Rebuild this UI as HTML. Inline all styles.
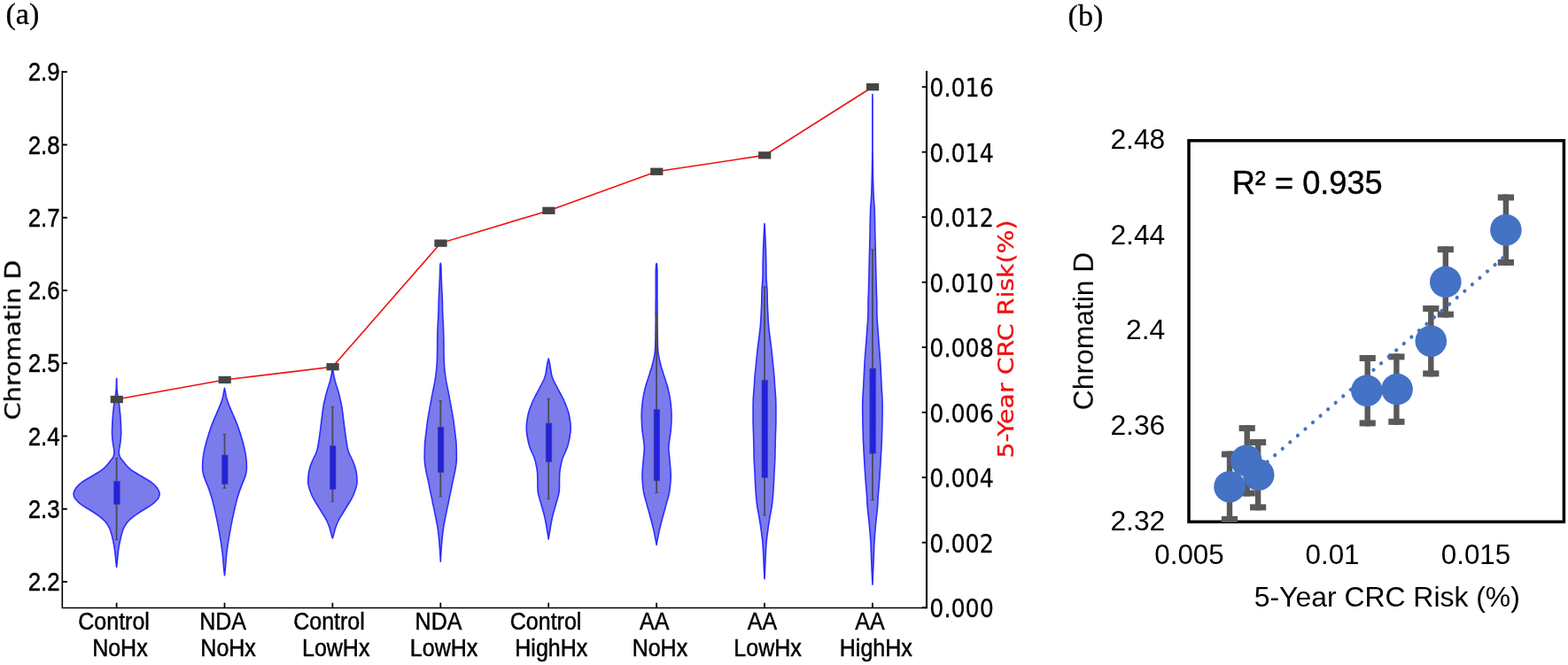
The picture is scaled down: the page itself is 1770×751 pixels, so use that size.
<!DOCTYPE html>
<html lang="en">
<head>
<meta charset="utf-8">
<title>Chromatin D vs 5-Year CRC Risk</title>
<style>
html,body{margin:0;padding:0;background:#fff;}
body{width:1770px;height:751px;overflow:hidden;}
svg{display:block;}
text{white-space:pre;}
</style>
</head>
<body>
<svg width="1770" height="751" viewBox="0 0 1770 751" role="img" aria-label="Violin plot of chromatin D by group with 5-year CRC risk, and scatter plot of chromatin D versus 5-year CRC risk">
<rect x="0" y="0" width="1770" height="751" fill="#ffffff"/>
<defs><filter id="soft" x="0" y="0" width="1770" height="751" filterUnits="userSpaceOnUse" color-interpolation-filters="sRGB"><feGaussianBlur stdDeviation="0.45"/></filter></defs>
<g filter="url(#soft)">
<text transform="translate(6.40 27.40)" font-family="'Liberation Serif', 'Times New Roman', serif" font-size="34.2" text-anchor="start" fill="#000" stroke="#000" stroke-width="0.3" stroke-linejoin="round">(a)</text>
<text transform="translate(1205.60 28.60)" font-family="'Liberation Serif', 'Times New Roman', serif" font-size="34.2" text-anchor="start" fill="#000" stroke="#000" stroke-width="0.3" stroke-linejoin="round">(b)</text>
<g id="violins">
<path d="M131.6 427.3 L131.5 428.3 L131.5 429.3 L131.4 430.3 L131.4 431.3 L131.4 432.3 L131.4 433.3 L131.4 434.3 L131.3 435.3 L131.3 436.3 L131.3 437.3 L131.2 438.3 L131.2 439.3 L131.1 440.3 L131.0 441.3 L130.9 442.3 L130.8 443.3 L130.7 444.3 L130.5 445.3 L130.3 446.3 L130.1 447.3 L130.0 448.3 L129.8 449.3 L129.6 450.3 L129.5 451.3 L129.3 452.3 L129.2 453.3 L129.1 454.3 L128.9 455.3 L128.8 456.3 L128.7 457.3 L128.5 458.3 L128.4 459.3 L128.3 460.3 L128.2 461.3 L128.1 462.3 L128.0 463.3 L127.9 464.3 L127.8 465.3 L127.7 466.3 L127.6 467.3 L127.5 468.3 L127.4 469.3 L127.3 470.3 L127.3 471.3 L127.2 472.3 L127.1 473.3 L127.1 474.3 L127.0 475.3 L126.9 476.3 L126.9 477.3 L126.8 478.3 L126.8 479.3 L126.7 480.3 L126.7 481.3 L126.7 482.3 L126.6 483.3 L126.6 484.3 L126.6 485.3 L126.5 486.3 L126.5 487.3 L126.5 488.3 L126.5 489.3 L126.6 490.3 L126.6 491.3 L126.6 492.3 L126.7 493.3 L126.8 494.3 L126.9 495.3 L127.0 496.3 L127.1 497.3 L127.2 498.3 L127.3 499.3 L127.5 500.3 L127.6 501.3 L127.8 502.3 L127.9 503.3 L128.1 504.3 L128.3 505.3 L128.5 506.3 L128.7 507.3 L128.8 508.3 L128.9 509.3 L129.0 510.3 L128.9 511.3 L128.9 512.3 L128.7 513.3 L128.4 514.3 L128.1 515.3 L127.6 516.3 L127.1 517.3 L126.4 518.3 L125.6 519.3 L124.8 520.3 L124.0 521.3 L123.2 522.3 L122.4 523.3 L121.6 524.3 L120.7 525.3 L119.8 526.3 L118.9 527.3 L117.8 528.3 L116.7 529.3 L115.4 530.3 L114.1 531.3 L112.6 532.3 L111.1 533.3 L109.5 534.3 L107.9 535.3 L106.3 536.3 L104.6 537.3 L102.9 538.3 L101.2 539.3 L99.5 540.3 L97.8 541.3 L96.1 542.3 L94.5 543.3 L92.9 544.3 L91.6 545.3 L90.3 546.3 L89.2 547.3 L88.2 548.3 L87.3 549.3 L86.5 550.3 L85.7 551.3 L85.1 552.3 L84.5 553.3 L84.0 554.3 L83.6 555.3 L83.3 556.3 L83.2 557.3 L83.1 558.3 L83.3 559.3 L83.5 560.3 L83.9 561.3 L84.4 562.3 L85.0 563.3 L85.8 564.3 L86.7 565.3 L87.7 566.3 L88.8 567.3 L90.0 568.3 L91.2 569.3 L92.6 570.3 L94.0 571.3 L95.5 572.3 L97.1 573.3 L98.7 574.3 L100.3 575.3 L102.0 576.3 L103.6 577.3 L105.2 578.3 L106.7 579.3 L108.3 580.3 L109.7 581.3 L111.2 582.3 L112.5 583.3 L113.8 584.3 L115.0 585.3 L116.1 586.3 L117.2 587.3 L118.1 588.3 L119.0 589.3 L119.8 590.3 L120.6 591.3 L121.3 592.3 L121.9 593.3 L122.5 594.3 L123.0 595.3 L123.5 596.3 L123.9 597.3 L124.3 598.3 L124.7 599.3 L125.0 600.3 L125.3 601.3 L125.6 602.3 L125.9 603.3 L126.2 604.3 L126.4 605.3 L126.7 606.3 L126.9 607.3 L127.1 608.3 L127.3 609.3 L127.6 610.3 L127.8 611.3 L128.0 612.3 L128.2 613.3 L128.4 614.3 L128.6 615.3 L128.8 616.3 L129.0 617.3 L129.1 618.3 L129.3 619.3 L129.4 620.3 L129.5 621.3 L129.7 622.3 L129.8 623.3 L129.9 624.3 L130.0 625.3 L130.1 626.3 L130.2 627.3 L130.3 628.3 L130.4 629.3 L130.5 630.3 L130.6 631.3 L130.7 632.3 L130.8 633.3 L130.9 634.3 L131.0 635.3 L131.1 636.3 L131.2 637.3 L131.3 638.3 L131.5 639.3 L131.6 640.3 L131.6 640.3 L131.7 639.3 L131.9 638.3 L132.0 637.3 L132.1 636.3 L132.2 635.3 L132.3 634.3 L132.4 633.3 L132.5 632.3 L132.6 631.3 L132.7 630.3 L132.8 629.3 L132.9 628.3 L133.0 627.3 L133.1 626.3 L133.2 625.3 L133.3 624.3 L133.4 623.3 L133.5 622.3 L133.7 621.3 L133.8 620.3 L133.9 619.3 L134.1 618.3 L134.2 617.3 L134.4 616.3 L134.6 615.3 L134.8 614.3 L135.0 613.3 L135.2 612.3 L135.4 611.3 L135.6 610.3 L135.9 609.3 L136.1 608.3 L136.3 607.3 L136.5 606.3 L136.8 605.3 L137.0 604.3 L137.3 603.3 L137.6 602.3 L137.9 601.3 L138.2 600.3 L138.5 599.3 L138.9 598.3 L139.3 597.3 L139.7 596.3 L140.2 595.3 L140.7 594.3 L141.3 593.3 L141.9 592.3 L142.6 591.3 L143.4 590.3 L144.2 589.3 L145.1 588.3 L146.0 587.3 L147.1 586.3 L148.2 585.3 L149.4 584.3 L150.7 583.3 L152.0 582.3 L153.5 581.3 L154.9 580.3 L156.5 579.3 L158.0 578.3 L159.6 577.3 L161.2 576.3 L162.9 575.3 L164.5 574.3 L166.1 573.3 L167.7 572.3 L169.2 571.3 L170.6 570.3 L172.0 569.3 L173.2 568.3 L174.4 567.3 L175.5 566.3 L176.5 565.3 L177.4 564.3 L178.2 563.3 L178.8 562.3 L179.3 561.3 L179.7 560.3 L179.9 559.3 L180.1 558.3 L180.0 557.3 L179.9 556.3 L179.6 555.3 L179.2 554.3 L178.7 553.3 L178.1 552.3 L177.5 551.3 L176.7 550.3 L175.9 549.3 L175.0 548.3 L174.0 547.3 L172.9 546.3 L171.6 545.3 L170.3 544.3 L168.7 543.3 L167.1 542.3 L165.4 541.3 L163.7 540.3 L162.0 539.3 L160.3 538.3 L158.6 537.3 L156.9 536.3 L155.3 535.3 L153.7 534.3 L152.1 533.3 L150.6 532.3 L149.1 531.3 L147.8 530.3 L146.5 529.3 L145.4 528.3 L144.3 527.3 L143.4 526.3 L142.5 525.3 L141.6 524.3 L140.8 523.3 L140.0 522.3 L139.2 521.3 L138.4 520.3 L137.6 519.3 L136.8 518.3 L136.1 517.3 L135.6 516.3 L135.1 515.3 L134.8 514.3 L134.5 513.3 L134.3 512.3 L134.3 511.3 L134.2 510.3 L134.3 509.3 L134.4 508.3 L134.5 507.3 L134.7 506.3 L134.9 505.3 L135.1 504.3 L135.3 503.3 L135.4 502.3 L135.6 501.3 L135.7 500.3 L135.9 499.3 L136.0 498.3 L136.1 497.3 L136.2 496.3 L136.3 495.3 L136.4 494.3 L136.5 493.3 L136.6 492.3 L136.6 491.3 L136.6 490.3 L136.7 489.3 L136.7 488.3 L136.7 487.3 L136.7 486.3 L136.6 485.3 L136.6 484.3 L136.6 483.3 L136.5 482.3 L136.5 481.3 L136.5 480.3 L136.4 479.3 L136.4 478.3 L136.3 477.3 L136.3 476.3 L136.2 475.3 L136.1 474.3 L136.1 473.3 L136.0 472.3 L135.9 471.3 L135.9 470.3 L135.8 469.3 L135.7 468.3 L135.6 467.3 L135.5 466.3 L135.4 465.3 L135.3 464.3 L135.2 463.3 L135.1 462.3 L135.0 461.3 L134.9 460.3 L134.8 459.3 L134.7 458.3 L134.5 457.3 L134.4 456.3 L134.3 455.3 L134.1 454.3 L134.0 453.3 L133.9 452.3 L133.7 451.3 L133.6 450.3 L133.4 449.3 L133.2 448.3 L133.1 447.3 L132.9 446.3 L132.7 445.3 L132.5 444.3 L132.4 443.3 L132.3 442.3 L132.2 441.3 L132.1 440.3 L132.0 439.3 L132.0 438.3 L131.9 437.3 L131.9 436.3 L131.9 435.3 L131.8 434.3 L131.8 433.3 L131.8 432.3 L131.8 431.3 L131.8 430.3 L131.7 429.3 L131.7 428.3 L131.6 427.3 Z" fill="#7b7beb" stroke="#2c2cff" stroke-width="1.6" stroke-linejoin="round"/>
<path d="M253.5 438.4 L253.3 439.4 L253.1 440.4 L252.9 441.4 L252.7 442.4 L252.5 443.4 L252.3 444.4 L252.1 445.4 L252.0 446.4 L251.8 447.4 L251.5 448.4 L251.3 449.4 L251.0 450.4 L250.7 451.4 L250.4 452.4 L250.1 453.4 L249.7 454.4 L249.4 455.4 L249.0 456.4 L248.6 457.4 L248.1 458.4 L247.7 459.4 L247.3 460.4 L246.9 461.4 L246.5 462.4 L246.0 463.4 L245.6 464.4 L245.2 465.4 L244.8 466.4 L244.4 467.4 L243.9 468.4 L243.5 469.4 L243.0 470.4 L242.6 471.4 L242.2 472.4 L241.7 473.4 L241.3 474.4 L240.9 475.4 L240.5 476.4 L240.1 477.4 L239.7 478.4 L239.3 479.4 L238.9 480.4 L238.6 481.4 L238.2 482.4 L237.8 483.4 L237.5 484.4 L237.2 485.4 L236.8 486.4 L236.5 487.4 L236.2 488.4 L235.8 489.4 L235.5 490.4 L235.2 491.4 L234.9 492.4 L234.6 493.4 L234.3 494.4 L234.0 495.4 L233.7 496.4 L233.4 497.4 L233.1 498.4 L232.8 499.4 L232.5 500.4 L232.3 501.4 L232.0 502.4 L231.8 503.4 L231.5 504.4 L231.3 505.4 L231.1 506.4 L230.9 507.4 L230.7 508.4 L230.5 509.4 L230.3 510.4 L230.1 511.4 L229.9 512.4 L229.8 513.4 L229.6 514.4 L229.4 515.4 L229.3 516.4 L229.2 517.4 L229.0 518.4 L228.9 519.4 L228.9 520.4 L228.8 521.4 L228.7 522.4 L228.7 523.4 L228.7 524.4 L228.7 525.4 L228.6 526.4 L228.6 527.4 L228.6 528.4 L228.7 529.4 L228.7 530.4 L228.8 531.4 L228.9 532.4 L229.1 533.4 L229.3 534.4 L229.5 535.4 L229.8 536.4 L230.1 537.4 L230.4 538.4 L230.7 539.4 L231.1 540.4 L231.5 541.4 L231.9 542.4 L232.3 543.4 L232.7 544.4 L233.1 545.4 L233.5 546.4 L233.9 547.4 L234.3 548.4 L234.7 549.4 L235.1 550.4 L235.4 551.4 L235.8 552.4 L236.2 553.4 L236.5 554.4 L236.9 555.4 L237.2 556.4 L237.5 557.4 L237.9 558.4 L238.2 559.4 L238.5 560.4 L238.8 561.4 L239.1 562.4 L239.4 563.4 L239.7 564.4 L239.9 565.4 L240.2 566.4 L240.4 567.4 L240.7 568.4 L240.9 569.4 L241.2 570.4 L241.4 571.4 L241.6 572.4 L241.9 573.4 L242.1 574.4 L242.3 575.4 L242.5 576.4 L242.8 577.4 L243.0 578.4 L243.2 579.4 L243.4 580.4 L243.6 581.4 L243.9 582.4 L244.1 583.4 L244.3 584.4 L244.5 585.4 L244.7 586.4 L244.9 587.4 L245.1 588.4 L245.3 589.4 L245.5 590.4 L245.7 591.4 L245.9 592.4 L246.1 593.4 L246.3 594.4 L246.5 595.4 L246.6 596.4 L246.8 597.4 L247.0 598.4 L247.2 599.4 L247.4 600.4 L247.6 601.4 L247.7 602.4 L247.9 603.4 L248.1 604.4 L248.2 605.4 L248.4 606.4 L248.6 607.4 L248.7 608.4 L248.9 609.4 L249.1 610.4 L249.2 611.4 L249.4 612.4 L249.5 613.4 L249.7 614.4 L249.8 615.4 L250.0 616.4 L250.1 617.4 L250.3 618.4 L250.4 619.4 L250.6 620.4 L250.7 621.4 L250.8 622.4 L251.0 623.4 L251.1 624.4 L251.2 625.4 L251.3 626.4 L251.4 627.4 L251.5 628.4 L251.6 629.4 L251.7 630.4 L251.8 631.4 L251.9 632.4 L251.9 633.4 L252.0 634.4 L252.1 635.4 L252.2 636.4 L252.3 637.4 L252.3 638.4 L252.4 639.4 L252.5 640.4 L252.6 641.4 L252.7 642.4 L252.8 643.4 L252.9 644.4 L253.0 645.4 L253.1 646.4 L253.2 647.4 L253.3 648.4 L253.4 649.4 L253.5 649.8 L253.5 649.8 L253.6 649.4 L253.7 648.4 L253.8 647.4 L253.9 646.4 L254.0 645.4 L254.1 644.4 L254.2 643.4 L254.3 642.4 L254.4 641.4 L254.5 640.4 L254.6 639.4 L254.7 638.4 L254.7 637.4 L254.8 636.4 L254.9 635.4 L255.0 634.4 L255.1 633.4 L255.1 632.4 L255.2 631.4 L255.3 630.4 L255.4 629.4 L255.5 628.4 L255.6 627.4 L255.7 626.4 L255.8 625.4 L255.9 624.4 L256.0 623.4 L256.2 622.4 L256.3 621.4 L256.4 620.4 L256.6 619.4 L256.7 618.4 L256.9 617.4 L257.0 616.4 L257.2 615.4 L257.3 614.4 L257.5 613.4 L257.6 612.4 L257.8 611.4 L257.9 610.4 L258.1 609.4 L258.3 608.4 L258.4 607.4 L258.6 606.4 L258.8 605.4 L258.9 604.4 L259.1 603.4 L259.3 602.4 L259.4 601.4 L259.6 600.4 L259.8 599.4 L260.0 598.4 L260.2 597.4 L260.4 596.4 L260.5 595.4 L260.7 594.4 L260.9 593.4 L261.1 592.4 L261.3 591.4 L261.5 590.4 L261.7 589.4 L261.9 588.4 L262.1 587.4 L262.3 586.4 L262.5 585.4 L262.7 584.4 L262.9 583.4 L263.1 582.4 L263.4 581.4 L263.6 580.4 L263.8 579.4 L264.0 578.4 L264.2 577.4 L264.5 576.4 L264.7 575.4 L264.9 574.4 L265.1 573.4 L265.4 572.4 L265.6 571.4 L265.8 570.4 L266.1 569.4 L266.3 568.4 L266.6 567.4 L266.8 566.4 L267.1 565.4 L267.3 564.4 L267.6 563.4 L267.9 562.4 L268.2 561.4 L268.5 560.4 L268.8 559.4 L269.1 558.4 L269.5 557.4 L269.8 556.4 L270.1 555.4 L270.5 554.4 L270.8 553.4 L271.2 552.4 L271.6 551.4 L271.9 550.4 L272.3 549.4 L272.7 548.4 L273.1 547.4 L273.5 546.4 L273.9 545.4 L274.3 544.4 L274.7 543.4 L275.1 542.4 L275.5 541.4 L275.9 540.4 L276.3 539.4 L276.6 538.4 L276.9 537.4 L277.2 536.4 L277.5 535.4 L277.7 534.4 L277.9 533.4 L278.1 532.4 L278.2 531.4 L278.3 530.4 L278.3 529.4 L278.4 528.4 L278.4 527.4 L278.4 526.4 L278.3 525.4 L278.3 524.4 L278.3 523.4 L278.3 522.4 L278.2 521.4 L278.1 520.4 L278.1 519.4 L278.0 518.4 L277.8 517.4 L277.7 516.4 L277.6 515.4 L277.4 514.4 L277.2 513.4 L277.1 512.4 L276.9 511.4 L276.7 510.4 L276.5 509.4 L276.3 508.4 L276.1 507.4 L275.9 506.4 L275.7 505.4 L275.5 504.4 L275.2 503.4 L275.0 502.4 L274.7 501.4 L274.5 500.4 L274.2 499.4 L273.9 498.4 L273.6 497.4 L273.3 496.4 L273.0 495.4 L272.7 494.4 L272.4 493.4 L272.1 492.4 L271.8 491.4 L271.5 490.4 L271.2 489.4 L270.8 488.4 L270.5 487.4 L270.2 486.4 L269.8 485.4 L269.5 484.4 L269.2 483.4 L268.8 482.4 L268.4 481.4 L268.1 480.4 L267.7 479.4 L267.3 478.4 L266.9 477.4 L266.5 476.4 L266.1 475.4 L265.7 474.4 L265.3 473.4 L264.8 472.4 L264.4 471.4 L264.0 470.4 L263.5 469.4 L263.1 468.4 L262.6 467.4 L262.2 466.4 L261.8 465.4 L261.4 464.4 L261.0 463.4 L260.5 462.4 L260.1 461.4 L259.7 460.4 L259.3 459.4 L258.9 458.4 L258.4 457.4 L258.0 456.4 L257.6 455.4 L257.3 454.4 L256.9 453.4 L256.6 452.4 L256.3 451.4 L256.0 450.4 L255.7 449.4 L255.5 448.4 L255.2 447.4 L255.0 446.4 L254.9 445.4 L254.7 444.4 L254.5 443.4 L254.3 442.4 L254.1 441.4 L253.9 440.4 L253.7 439.4 L253.5 438.4 Z" fill="#7b7beb" stroke="#2c2cff" stroke-width="1.6" stroke-linejoin="round"/>
<path d="M375.4 415.0 L375.3 416.0 L375.1 417.0 L375.0 418.0 L374.9 419.0 L374.7 420.0 L374.5 421.0 L374.4 422.0 L374.2 423.0 L374.0 424.0 L373.8 425.0 L373.6 426.0 L373.3 427.0 L373.1 428.0 L372.9 429.0 L372.6 430.0 L372.4 431.0 L372.1 432.0 L371.8 433.0 L371.5 434.0 L371.2 435.0 L370.9 436.0 L370.5 437.0 L370.2 438.0 L369.9 439.0 L369.6 440.0 L369.3 441.0 L369.0 442.0 L368.7 443.0 L368.4 444.0 L368.2 445.0 L367.9 446.0 L367.6 447.0 L367.4 448.0 L367.2 449.0 L366.9 450.0 L366.7 451.0 L366.5 452.0 L366.2 453.0 L366.0 454.0 L365.8 455.0 L365.6 456.0 L365.4 457.0 L365.3 458.0 L365.1 459.0 L364.9 460.0 L364.8 461.0 L364.6 462.0 L364.5 463.0 L364.3 464.0 L364.2 465.0 L364.0 466.0 L363.9 467.0 L363.8 468.0 L363.7 469.0 L363.5 470.0 L363.4 471.0 L363.3 472.0 L363.2 473.0 L363.0 474.0 L362.9 475.0 L362.8 476.0 L362.7 477.0 L362.5 478.0 L362.4 479.0 L362.3 480.0 L362.2 481.0 L362.1 482.0 L361.9 483.0 L361.8 484.0 L361.7 485.0 L361.6 486.0 L361.4 487.0 L361.3 488.0 L361.2 489.0 L361.0 490.0 L360.9 491.0 L360.8 492.0 L360.6 493.0 L360.5 494.0 L360.3 495.0 L360.2 496.0 L360.1 497.0 L359.9 498.0 L359.7 499.0 L359.6 500.0 L359.4 501.0 L359.2 502.0 L359.1 503.0 L358.9 504.0 L358.7 505.0 L358.5 506.0 L358.2 507.0 L358.0 508.0 L357.7 509.0 L357.4 510.0 L357.0 511.0 L356.6 512.0 L356.2 513.0 L355.7 514.0 L355.2 515.0 L354.7 516.0 L354.2 517.0 L353.8 518.0 L353.3 519.0 L352.8 520.0 L352.4 521.0 L352.0 522.0 L351.6 523.0 L351.2 524.0 L350.8 525.0 L350.5 526.0 L350.1 527.0 L349.8 528.0 L349.6 529.0 L349.3 530.0 L349.1 531.0 L348.9 532.0 L348.7 533.0 L348.5 534.0 L348.4 535.0 L348.2 536.0 L348.1 537.0 L348.0 538.0 L348.0 539.0 L347.9 540.0 L347.8 541.0 L347.8 542.0 L347.8 543.0 L347.8 544.0 L347.8 545.0 L347.9 546.0 L348.0 547.0 L348.2 548.0 L348.5 549.0 L348.7 550.0 L349.0 551.0 L349.3 552.0 L349.6 553.0 L350.0 554.0 L350.3 555.0 L350.7 556.0 L351.0 557.0 L351.5 558.0 L351.9 559.0 L352.3 560.0 L352.8 561.0 L353.3 562.0 L353.8 563.0 L354.4 564.0 L355.0 565.0 L355.5 566.0 L356.2 567.0 L356.8 568.0 L357.4 569.0 L358.0 570.0 L358.6 571.0 L359.2 572.0 L359.8 573.0 L360.5 574.0 L361.1 575.0 L361.7 576.0 L362.3 577.0 L362.9 578.0 L363.5 579.0 L364.1 580.0 L364.7 581.0 L365.4 582.0 L366.0 583.0 L366.6 584.0 L367.2 585.0 L367.7 586.0 L368.3 587.0 L368.8 588.0 L369.3 589.0 L369.7 590.0 L370.1 591.0 L370.6 592.0 L370.9 593.0 L371.3 594.0 L371.7 595.0 L372.0 596.0 L372.3 597.0 L372.6 598.0 L372.9 599.0 L373.2 600.0 L373.4 601.0 L373.7 602.0 L374.0 603.0 L374.2 604.0 L374.5 605.0 L374.8 606.0 L375.1 607.0 L375.4 607.8 L375.4 607.8 L375.7 607.0 L376.0 606.0 L376.3 605.0 L376.6 604.0 L376.8 603.0 L377.1 602.0 L377.4 601.0 L377.6 600.0 L377.9 599.0 L378.2 598.0 L378.5 597.0 L378.8 596.0 L379.1 595.0 L379.5 594.0 L379.9 593.0 L380.2 592.0 L380.7 591.0 L381.1 590.0 L381.5 589.0 L382.0 588.0 L382.5 587.0 L383.1 586.0 L383.6 585.0 L384.2 584.0 L384.8 583.0 L385.4 582.0 L386.1 581.0 L386.7 580.0 L387.3 579.0 L387.9 578.0 L388.5 577.0 L389.1 576.0 L389.7 575.0 L390.3 574.0 L391.0 573.0 L391.6 572.0 L392.2 571.0 L392.8 570.0 L393.4 569.0 L394.0 568.0 L394.6 567.0 L395.3 566.0 L395.8 565.0 L396.4 564.0 L397.0 563.0 L397.5 562.0 L398.0 561.0 L398.5 560.0 L398.9 559.0 L399.3 558.0 L399.8 557.0 L400.1 556.0 L400.5 555.0 L400.8 554.0 L401.2 553.0 L401.5 552.0 L401.8 551.0 L402.1 550.0 L402.3 549.0 L402.6 548.0 L402.8 547.0 L402.9 546.0 L403.0 545.0 L403.0 544.0 L403.0 543.0 L403.0 542.0 L403.0 541.0 L402.9 540.0 L402.8 539.0 L402.8 538.0 L402.7 537.0 L402.6 536.0 L402.4 535.0 L402.3 534.0 L402.1 533.0 L401.9 532.0 L401.7 531.0 L401.5 530.0 L401.2 529.0 L401.0 528.0 L400.7 527.0 L400.3 526.0 L400.0 525.0 L399.6 524.0 L399.2 523.0 L398.8 522.0 L398.4 521.0 L398.0 520.0 L397.5 519.0 L397.0 518.0 L396.6 517.0 L396.1 516.0 L395.6 515.0 L395.1 514.0 L394.6 513.0 L394.2 512.0 L393.8 511.0 L393.4 510.0 L393.1 509.0 L392.8 508.0 L392.6 507.0 L392.3 506.0 L392.1 505.0 L391.9 504.0 L391.7 503.0 L391.6 502.0 L391.4 501.0 L391.2 500.0 L391.1 499.0 L390.9 498.0 L390.7 497.0 L390.6 496.0 L390.5 495.0 L390.3 494.0 L390.2 493.0 L390.0 492.0 L389.9 491.0 L389.8 490.0 L389.6 489.0 L389.5 488.0 L389.4 487.0 L389.2 486.0 L389.1 485.0 L389.0 484.0 L388.9 483.0 L388.7 482.0 L388.6 481.0 L388.5 480.0 L388.4 479.0 L388.3 478.0 L388.1 477.0 L388.0 476.0 L387.9 475.0 L387.8 474.0 L387.6 473.0 L387.5 472.0 L387.4 471.0 L387.3 470.0 L387.1 469.0 L387.0 468.0 L386.9 467.0 L386.8 466.0 L386.6 465.0 L386.5 464.0 L386.3 463.0 L386.2 462.0 L386.0 461.0 L385.9 460.0 L385.7 459.0 L385.5 458.0 L385.4 457.0 L385.2 456.0 L385.0 455.0 L384.8 454.0 L384.6 453.0 L384.3 452.0 L384.1 451.0 L383.9 450.0 L383.6 449.0 L383.4 448.0 L383.2 447.0 L382.9 446.0 L382.6 445.0 L382.4 444.0 L382.1 443.0 L381.8 442.0 L381.5 441.0 L381.2 440.0 L380.9 439.0 L380.6 438.0 L380.3 437.0 L379.9 436.0 L379.6 435.0 L379.3 434.0 L379.0 433.0 L378.7 432.0 L378.4 431.0 L378.2 430.0 L377.9 429.0 L377.7 428.0 L377.5 427.0 L377.2 426.0 L377.0 425.0 L376.8 424.0 L376.6 423.0 L376.4 422.0 L376.3 421.0 L376.1 420.0 L375.9 419.0 L375.8 418.0 L375.7 417.0 L375.5 416.0 L375.4 415.0 Z" fill="#7b7beb" stroke="#2c2cff" stroke-width="1.6" stroke-linejoin="round"/>
<path d="M497.3 297.2 L497.1 298.2 L496.9 299.2 L496.8 300.2 L496.8 301.2 L496.7 302.2 L496.7 303.2 L496.7 304.2 L496.7 305.2 L496.6 306.2 L496.6 307.2 L496.6 308.2 L496.6 309.2 L496.5 310.2 L496.5 311.2 L496.5 312.2 L496.4 313.2 L496.4 314.2 L496.4 315.2 L496.3 316.2 L496.3 317.2 L496.2 318.2 L496.2 319.2 L496.2 320.2 L496.1 321.2 L496.1 322.2 L496.0 323.2 L496.0 324.2 L495.9 325.2 L495.9 326.2 L495.8 327.2 L495.8 328.2 L495.7 329.2 L495.7 330.2 L495.6 331.2 L495.6 332.2 L495.5 333.2 L495.5 334.2 L495.4 335.2 L495.4 336.2 L495.3 337.2 L495.3 338.2 L495.3 339.2 L495.2 340.2 L495.2 341.2 L495.2 342.2 L495.2 343.2 L495.1 344.2 L495.1 345.2 L495.1 346.2 L495.1 347.2 L495.1 348.2 L495.0 349.2 L495.0 350.2 L495.0 351.2 L495.0 352.2 L494.9 353.2 L494.9 354.2 L494.8 355.2 L494.8 356.2 L494.8 357.2 L494.7 358.2 L494.7 359.2 L494.6 360.2 L494.5 361.2 L494.5 362.2 L494.4 363.2 L494.4 364.2 L494.3 365.2 L494.3 366.2 L494.2 367.2 L494.2 368.2 L494.1 369.2 L494.1 370.2 L494.1 371.2 L494.0 372.2 L494.0 373.2 L494.0 374.2 L493.9 375.2 L493.9 376.2 L493.9 377.2 L493.9 378.2 L493.8 379.2 L493.8 380.2 L493.8 381.2 L493.8 382.2 L493.7 383.2 L493.7 384.2 L493.7 385.2 L493.7 386.2 L493.7 387.2 L493.7 388.2 L493.7 389.2 L493.7 390.2 L493.7 391.2 L493.7 392.2 L493.7 393.2 L493.6 394.2 L493.6 395.2 L493.6 396.2 L493.6 397.2 L493.6 398.2 L493.6 399.2 L493.6 400.2 L493.6 401.2 L493.5 402.2 L493.5 403.2 L493.5 404.2 L493.4 405.2 L493.4 406.2 L493.4 407.2 L493.3 408.2 L493.2 409.2 L493.2 410.2 L493.1 411.2 L493.1 412.2 L493.0 413.2 L492.9 414.2 L492.9 415.2 L492.8 416.2 L492.7 417.2 L492.6 418.2 L492.5 419.2 L492.4 420.2 L492.2 421.2 L492.1 422.2 L492.0 423.2 L491.9 424.2 L491.7 425.2 L491.6 426.2 L491.4 427.2 L491.3 428.2 L491.1 429.2 L491.0 430.2 L490.8 431.2 L490.6 432.2 L490.4 433.2 L490.2 434.2 L490.0 435.2 L489.8 436.2 L489.6 437.2 L489.4 438.2 L489.2 439.2 L489.0 440.2 L488.8 441.2 L488.6 442.2 L488.4 443.2 L488.2 444.2 L488.0 445.2 L487.8 446.2 L487.6 447.2 L487.4 448.2 L487.2 449.2 L487.1 450.2 L486.9 451.2 L486.7 452.2 L486.5 453.2 L486.3 454.2 L486.1 455.2 L486.0 456.2 L485.8 457.2 L485.6 458.2 L485.4 459.2 L485.2 460.2 L485.1 461.2 L484.9 462.2 L484.7 463.2 L484.5 464.2 L484.3 465.2 L484.1 466.2 L483.9 467.2 L483.8 468.2 L483.6 469.2 L483.4 470.2 L483.3 471.2 L483.1 472.2 L482.9 473.2 L482.8 474.2 L482.6 475.2 L482.5 476.2 L482.4 477.2 L482.2 478.2 L482.1 479.2 L482.0 480.2 L481.8 481.2 L481.7 482.2 L481.6 483.2 L481.5 484.2 L481.3 485.2 L481.2 486.2 L481.1 487.2 L481.0 488.2 L480.9 489.2 L480.7 490.2 L480.6 491.2 L480.5 492.2 L480.4 493.2 L480.3 494.2 L480.2 495.2 L480.0 496.2 L479.9 497.2 L479.8 498.2 L479.8 499.2 L479.7 500.2 L479.6 501.2 L479.5 502.2 L479.5 503.2 L479.5 504.2 L479.4 505.2 L479.4 506.2 L479.4 507.2 L479.3 508.2 L479.3 509.2 L479.3 510.2 L479.3 511.2 L479.3 512.2 L479.3 513.2 L479.2 514.2 L479.2 515.2 L479.2 516.2 L479.2 517.2 L479.2 518.2 L479.3 519.2 L479.3 520.2 L479.4 521.2 L479.5 522.2 L479.6 523.2 L479.7 524.2 L479.8 525.2 L480.0 526.2 L480.1 527.2 L480.2 528.2 L480.4 529.2 L480.6 530.2 L480.8 531.2 L481.0 532.2 L481.2 533.2 L481.4 534.2 L481.6 535.2 L481.8 536.2 L482.0 537.2 L482.3 538.2 L482.5 539.2 L482.7 540.2 L483.0 541.2 L483.2 542.2 L483.4 543.2 L483.6 544.2 L483.8 545.2 L484.0 546.2 L484.2 547.2 L484.4 548.2 L484.6 549.2 L484.8 550.2 L485.0 551.2 L485.2 552.2 L485.4 553.2 L485.6 554.2 L485.8 555.2 L486.0 556.2 L486.2 557.2 L486.4 558.2 L486.7 559.2 L486.9 560.2 L487.1 561.2 L487.3 562.2 L487.5 563.2 L487.7 564.2 L487.9 565.2 L488.1 566.2 L488.3 567.2 L488.5 568.2 L488.7 569.2 L488.9 570.2 L489.1 571.2 L489.4 572.2 L489.6 573.2 L489.8 574.2 L490.0 575.2 L490.2 576.2 L490.4 577.2 L490.6 578.2 L490.8 579.2 L491.0 580.2 L491.2 581.2 L491.4 582.2 L491.6 583.2 L491.8 584.2 L492.0 585.2 L492.2 586.2 L492.4 587.2 L492.6 588.2 L492.8 589.2 L493.0 590.2 L493.2 591.2 L493.4 592.2 L493.6 593.2 L493.7 594.2 L493.9 595.2 L494.0 596.2 L494.2 597.2 L494.3 598.2 L494.5 599.2 L494.6 600.2 L494.7 601.2 L494.8 602.2 L494.9 603.2 L495.1 604.2 L495.2 605.2 L495.3 606.2 L495.4 607.2 L495.5 608.2 L495.6 609.2 L495.7 610.2 L495.8 611.2 L495.8 612.2 L495.9 613.2 L496.0 614.2 L496.1 615.2 L496.2 616.2 L496.3 617.2 L496.3 618.2 L496.4 619.2 L496.5 620.2 L496.6 621.2 L496.6 622.2 L496.7 623.2 L496.8 624.2 L496.8 625.2 L496.9 626.2 L496.9 627.2 L497.0 628.2 L497.1 629.2 L497.1 630.2 L497.2 631.2 L497.2 632.2 L497.3 633.2 L497.3 634.2 L497.3 634.3 L497.3 634.3 L497.3 634.2 L497.3 633.2 L497.4 632.2 L497.4 631.2 L497.5 630.2 L497.5 629.2 L497.6 628.2 L497.7 627.2 L497.7 626.2 L497.8 625.2 L497.8 624.2 L497.9 623.2 L498.0 622.2 L498.0 621.2 L498.1 620.2 L498.2 619.2 L498.3 618.2 L498.3 617.2 L498.4 616.2 L498.5 615.2 L498.6 614.2 L498.7 613.2 L498.8 612.2 L498.8 611.2 L498.9 610.2 L499.0 609.2 L499.1 608.2 L499.2 607.2 L499.3 606.2 L499.4 605.2 L499.5 604.2 L499.7 603.2 L499.8 602.2 L499.9 601.2 L500.0 600.2 L500.1 599.2 L500.3 598.2 L500.4 597.2 L500.6 596.2 L500.7 595.2 L500.9 594.2 L501.0 593.2 L501.2 592.2 L501.4 591.2 L501.6 590.2 L501.8 589.2 L502.0 588.2 L502.2 587.2 L502.4 586.2 L502.6 585.2 L502.8 584.2 L503.0 583.2 L503.2 582.2 L503.4 581.2 L503.6 580.2 L503.8 579.2 L504.0 578.2 L504.2 577.2 L504.4 576.2 L504.6 575.2 L504.8 574.2 L505.0 573.2 L505.2 572.2 L505.5 571.2 L505.7 570.2 L505.9 569.2 L506.1 568.2 L506.3 567.2 L506.5 566.2 L506.7 565.2 L506.9 564.2 L507.1 563.2 L507.3 562.2 L507.5 561.2 L507.7 560.2 L507.9 559.2 L508.2 558.2 L508.4 557.2 L508.6 556.2 L508.8 555.2 L509.0 554.2 L509.2 553.2 L509.4 552.2 L509.6 551.2 L509.8 550.2 L510.0 549.2 L510.2 548.2 L510.4 547.2 L510.6 546.2 L510.8 545.2 L511.0 544.2 L511.2 543.2 L511.4 542.2 L511.6 541.2 L511.9 540.2 L512.1 539.2 L512.3 538.2 L512.6 537.2 L512.8 536.2 L513.0 535.2 L513.2 534.2 L513.4 533.2 L513.6 532.2 L513.8 531.2 L514.0 530.2 L514.2 529.2 L514.4 528.2 L514.5 527.2 L514.6 526.2 L514.8 525.2 L514.9 524.2 L515.0 523.2 L515.1 522.2 L515.2 521.2 L515.3 520.2 L515.3 519.2 L515.4 518.2 L515.4 517.2 L515.4 516.2 L515.4 515.2 L515.4 514.2 L515.3 513.2 L515.3 512.2 L515.3 511.2 L515.3 510.2 L515.3 509.2 L515.3 508.2 L515.2 507.2 L515.2 506.2 L515.2 505.2 L515.1 504.2 L515.1 503.2 L515.1 502.2 L515.0 501.2 L514.9 500.2 L514.8 499.2 L514.8 498.2 L514.7 497.2 L514.6 496.2 L514.4 495.2 L514.3 494.2 L514.2 493.2 L514.1 492.2 L514.0 491.2 L513.9 490.2 L513.7 489.2 L513.6 488.2 L513.5 487.2 L513.4 486.2 L513.3 485.2 L513.1 484.2 L513.0 483.2 L512.9 482.2 L512.8 481.2 L512.6 480.2 L512.5 479.2 L512.4 478.2 L512.2 477.2 L512.1 476.2 L512.0 475.2 L511.8 474.2 L511.7 473.2 L511.5 472.2 L511.3 471.2 L511.2 470.2 L511.0 469.2 L510.8 468.2 L510.7 467.2 L510.5 466.2 L510.3 465.2 L510.1 464.2 L509.9 463.2 L509.7 462.2 L509.5 461.2 L509.4 460.2 L509.2 459.2 L509.0 458.2 L508.8 457.2 L508.6 456.2 L508.5 455.2 L508.3 454.2 L508.1 453.2 L507.9 452.2 L507.7 451.2 L507.5 450.2 L507.4 449.2 L507.2 448.2 L507.0 447.2 L506.8 446.2 L506.6 445.2 L506.4 444.2 L506.2 443.2 L506.0 442.2 L505.8 441.2 L505.6 440.2 L505.4 439.2 L505.2 438.2 L505.0 437.2 L504.8 436.2 L504.6 435.2 L504.4 434.2 L504.2 433.2 L504.0 432.2 L503.8 431.2 L503.6 430.2 L503.5 429.2 L503.3 428.2 L503.2 427.2 L503.0 426.2 L502.9 425.2 L502.7 424.2 L502.6 423.2 L502.5 422.2 L502.4 421.2 L502.2 420.2 L502.1 419.2 L502.0 418.2 L501.9 417.2 L501.8 416.2 L501.7 415.2 L501.7 414.2 L501.6 413.2 L501.5 412.2 L501.5 411.2 L501.4 410.2 L501.4 409.2 L501.3 408.2 L501.2 407.2 L501.2 406.2 L501.2 405.2 L501.1 404.2 L501.1 403.2 L501.1 402.2 L501.0 401.2 L501.0 400.2 L501.0 399.2 L501.0 398.2 L501.0 397.2 L501.0 396.2 L501.0 395.2 L501.0 394.2 L500.9 393.2 L500.9 392.2 L500.9 391.2 L500.9 390.2 L500.9 389.2 L500.9 388.2 L500.9 387.2 L500.9 386.2 L500.9 385.2 L500.9 384.2 L500.9 383.2 L500.8 382.2 L500.8 381.2 L500.8 380.2 L500.8 379.2 L500.7 378.2 L500.7 377.2 L500.7 376.2 L500.7 375.2 L500.6 374.2 L500.6 373.2 L500.6 372.2 L500.5 371.2 L500.5 370.2 L500.5 369.2 L500.4 368.2 L500.4 367.2 L500.3 366.2 L500.3 365.2 L500.2 364.2 L500.2 363.2 L500.1 362.2 L500.1 361.2 L500.0 360.2 L499.9 359.2 L499.9 358.2 L499.8 357.2 L499.8 356.2 L499.8 355.2 L499.7 354.2 L499.7 353.2 L499.6 352.2 L499.6 351.2 L499.6 350.2 L499.6 349.2 L499.5 348.2 L499.5 347.2 L499.5 346.2 L499.5 345.2 L499.5 344.2 L499.4 343.2 L499.4 342.2 L499.4 341.2 L499.4 340.2 L499.3 339.2 L499.3 338.2 L499.3 337.2 L499.2 336.2 L499.2 335.2 L499.1 334.2 L499.1 333.2 L499.0 332.2 L499.0 331.2 L498.9 330.2 L498.9 329.2 L498.8 328.2 L498.8 327.2 L498.7 326.2 L498.7 325.2 L498.6 324.2 L498.6 323.2 L498.5 322.2 L498.5 321.2 L498.4 320.2 L498.4 319.2 L498.4 318.2 L498.3 317.2 L498.3 316.2 L498.2 315.2 L498.2 314.2 L498.2 313.2 L498.1 312.2 L498.1 311.2 L498.1 310.2 L498.0 309.2 L498.0 308.2 L498.0 307.2 L498.0 306.2 L497.9 305.2 L497.9 304.2 L497.9 303.2 L497.9 302.2 L497.8 301.2 L497.8 300.2 L497.7 299.2 L497.5 298.2 L497.3 297.2 Z" fill="#7b7beb" stroke="#2c2cff" stroke-width="1.6" stroke-linejoin="round"/>
<path d="M619.2 405.0 L618.9 406.0 L618.7 407.0 L618.4 408.0 L618.2 409.0 L618.0 410.0 L617.8 411.0 L617.6 412.0 L617.5 413.0 L617.3 414.0 L617.2 415.0 L617.0 416.0 L616.9 417.0 L616.7 418.0 L616.5 419.0 L616.4 420.0 L616.2 421.0 L616.0 422.0 L615.8 423.0 L615.5 424.0 L615.3 425.0 L614.9 426.0 L614.6 427.0 L614.2 428.0 L613.8 429.0 L613.3 430.0 L612.8 431.0 L612.3 432.0 L611.8 433.0 L611.3 434.0 L610.8 435.0 L610.3 436.0 L609.7 437.0 L609.2 438.0 L608.7 439.0 L608.2 440.0 L607.7 441.0 L607.1 442.0 L606.6 443.0 L606.1 444.0 L605.5 445.0 L605.0 446.0 L604.4 447.0 L603.9 448.0 L603.4 449.0 L602.9 450.0 L602.4 451.0 L601.9 452.0 L601.5 453.0 L601.0 454.0 L600.6 455.0 L600.2 456.0 L599.8 457.0 L599.4 458.0 L599.0 459.0 L598.6 460.0 L598.3 461.0 L597.9 462.0 L597.6 463.0 L597.3 464.0 L597.0 465.0 L596.7 466.0 L596.4 467.0 L596.2 468.0 L596.0 469.0 L595.8 470.0 L595.6 471.0 L595.4 472.0 L595.3 473.0 L595.1 474.0 L594.9 475.0 L594.8 476.0 L594.7 477.0 L594.5 478.0 L594.4 479.0 L594.4 480.0 L594.3 481.0 L594.3 482.0 L594.3 483.0 L594.3 484.0 L594.3 485.0 L594.4 486.0 L594.4 487.0 L594.5 488.0 L594.6 489.0 L594.8 490.0 L594.9 491.0 L595.1 492.0 L595.2 493.0 L595.4 494.0 L595.6 495.0 L595.8 496.0 L596.0 497.0 L596.2 498.0 L596.4 499.0 L596.6 500.0 L596.9 501.0 L597.1 502.0 L597.4 503.0 L597.7 504.0 L598.0 505.0 L598.4 506.0 L598.8 507.0 L599.2 508.0 L599.6 509.0 L600.0 510.0 L600.5 511.0 L600.9 512.0 L601.4 513.0 L601.8 514.0 L602.3 515.0 L602.7 516.0 L603.1 517.0 L603.4 518.0 L603.8 519.0 L604.1 520.0 L604.3 521.0 L604.6 522.0 L604.8 523.0 L605.0 524.0 L605.2 525.0 L605.4 526.0 L605.6 527.0 L605.8 528.0 L606.0 529.0 L606.1 530.0 L606.3 531.0 L606.4 532.0 L606.5 533.0 L606.6 534.0 L606.7 535.0 L606.7 536.0 L606.8 537.0 L606.8 538.0 L606.8 539.0 L606.8 540.0 L606.9 541.0 L606.9 542.0 L606.9 543.0 L606.9 544.0 L606.9 545.0 L606.9 546.0 L606.9 547.0 L606.9 548.0 L606.9 549.0 L607.0 550.0 L607.0 551.0 L607.0 552.0 L607.1 553.0 L607.1 554.0 L607.2 555.0 L607.4 556.0 L607.5 557.0 L607.7 558.0 L608.0 559.0 L608.2 560.0 L608.5 561.0 L608.8 562.0 L609.0 563.0 L609.3 564.0 L609.6 565.0 L609.9 566.0 L610.2 567.0 L610.5 568.0 L610.8 569.0 L611.1 570.0 L611.3 571.0 L611.6 572.0 L611.9 573.0 L612.2 574.0 L612.5 575.0 L612.7 576.0 L613.0 577.0 L613.3 578.0 L613.6 579.0 L613.9 580.0 L614.1 581.0 L614.4 582.0 L614.6 583.0 L614.9 584.0 L615.1 585.0 L615.3 586.0 L615.5 587.0 L615.7 588.0 L615.9 589.0 L616.1 590.0 L616.3 591.0 L616.5 592.0 L616.6 593.0 L616.8 594.0 L617.0 595.0 L617.1 596.0 L617.3 597.0 L617.5 598.0 L617.6 599.0 L617.8 600.0 L618.0 601.0 L618.1 602.0 L618.3 603.0 L618.5 604.0 L618.6 605.0 L618.8 606.0 L618.9 607.0 L619.1 608.0 L619.2 608.9 L619.2 608.9 L619.3 608.0 L619.5 607.0 L619.6 606.0 L619.8 605.0 L619.9 604.0 L620.1 603.0 L620.3 602.0 L620.4 601.0 L620.6 600.0 L620.8 599.0 L620.9 598.0 L621.1 597.0 L621.3 596.0 L621.4 595.0 L621.6 594.0 L621.8 593.0 L621.9 592.0 L622.1 591.0 L622.3 590.0 L622.5 589.0 L622.7 588.0 L622.9 587.0 L623.1 586.0 L623.3 585.0 L623.5 584.0 L623.8 583.0 L624.0 582.0 L624.3 581.0 L624.5 580.0 L624.8 579.0 L625.1 578.0 L625.4 577.0 L625.7 576.0 L625.9 575.0 L626.2 574.0 L626.5 573.0 L626.8 572.0 L627.1 571.0 L627.3 570.0 L627.6 569.0 L627.9 568.0 L628.2 567.0 L628.5 566.0 L628.8 565.0 L629.1 564.0 L629.4 563.0 L629.6 562.0 L629.9 561.0 L630.2 560.0 L630.4 559.0 L630.7 558.0 L630.9 557.0 L631.0 556.0 L631.2 555.0 L631.3 554.0 L631.3 553.0 L631.4 552.0 L631.4 551.0 L631.4 550.0 L631.5 549.0 L631.5 548.0 L631.5 547.0 L631.5 546.0 L631.5 545.0 L631.5 544.0 L631.5 543.0 L631.5 542.0 L631.5 541.0 L631.6 540.0 L631.6 539.0 L631.6 538.0 L631.6 537.0 L631.7 536.0 L631.7 535.0 L631.8 534.0 L631.9 533.0 L632.0 532.0 L632.1 531.0 L632.3 530.0 L632.4 529.0 L632.6 528.0 L632.8 527.0 L633.0 526.0 L633.2 525.0 L633.4 524.0 L633.6 523.0 L633.8 522.0 L634.1 521.0 L634.3 520.0 L634.6 519.0 L635.0 518.0 L635.3 517.0 L635.7 516.0 L636.1 515.0 L636.6 514.0 L637.0 513.0 L637.5 512.0 L637.9 511.0 L638.4 510.0 L638.8 509.0 L639.2 508.0 L639.6 507.0 L640.0 506.0 L640.4 505.0 L640.7 504.0 L641.0 503.0 L641.3 502.0 L641.5 501.0 L641.8 500.0 L642.0 499.0 L642.2 498.0 L642.4 497.0 L642.6 496.0 L642.8 495.0 L643.0 494.0 L643.2 493.0 L643.3 492.0 L643.5 491.0 L643.6 490.0 L643.8 489.0 L643.9 488.0 L644.0 487.0 L644.0 486.0 L644.1 485.0 L644.1 484.0 L644.1 483.0 L644.1 482.0 L644.1 481.0 L644.0 480.0 L644.0 479.0 L643.9 478.0 L643.7 477.0 L643.6 476.0 L643.5 475.0 L643.3 474.0 L643.1 473.0 L643.0 472.0 L642.8 471.0 L642.6 470.0 L642.4 469.0 L642.2 468.0 L642.0 467.0 L641.7 466.0 L641.4 465.0 L641.1 464.0 L640.8 463.0 L640.5 462.0 L640.1 461.0 L639.8 460.0 L639.4 459.0 L639.0 458.0 L638.6 457.0 L638.2 456.0 L637.8 455.0 L637.4 454.0 L636.9 453.0 L636.5 452.0 L636.0 451.0 L635.5 450.0 L635.0 449.0 L634.5 448.0 L634.0 447.0 L633.4 446.0 L632.9 445.0 L632.3 444.0 L631.8 443.0 L631.3 442.0 L630.7 441.0 L630.2 440.0 L629.7 439.0 L629.2 438.0 L628.7 437.0 L628.1 436.0 L627.6 435.0 L627.1 434.0 L626.6 433.0 L626.1 432.0 L625.6 431.0 L625.1 430.0 L624.6 429.0 L624.2 428.0 L623.8 427.0 L623.5 426.0 L623.1 425.0 L622.9 424.0 L622.6 423.0 L622.4 422.0 L622.2 421.0 L622.0 420.0 L621.9 419.0 L621.7 418.0 L621.5 417.0 L621.4 416.0 L621.2 415.0 L621.1 414.0 L620.9 413.0 L620.8 412.0 L620.6 411.0 L620.4 410.0 L620.2 409.0 L620.0 408.0 L619.7 407.0 L619.5 406.0 L619.2 405.0 Z" fill="#7b7beb" stroke="#2c2cff" stroke-width="1.6" stroke-linejoin="round"/>
<path d="M741.1 297.6 L740.8 298.6 L740.6 299.6 L740.5 300.6 L740.5 301.6 L740.4 302.6 L740.4 303.6 L740.4 304.6 L740.3 305.6 L740.3 306.6 L740.3 307.6 L740.3 308.6 L740.3 309.6 L740.3 310.6 L740.3 311.6 L740.3 312.6 L740.3 313.6 L740.3 314.6 L740.3 315.6 L740.3 316.6 L740.3 317.6 L740.3 318.6 L740.3 319.6 L740.3 320.6 L740.3 321.6 L740.3 322.6 L740.3 323.6 L740.3 324.6 L740.3 325.6 L740.3 326.6 L740.3 327.6 L740.3 328.6 L740.3 329.6 L740.3 330.6 L740.3 331.6 L740.3 332.6 L740.3 333.6 L740.3 334.6 L740.3 335.6 L740.3 336.6 L740.3 337.6 L740.3 338.6 L740.3 339.6 L740.2 340.6 L740.2 341.6 L740.2 342.6 L740.2 343.6 L740.2 344.6 L740.2 345.6 L740.2 346.6 L740.2 347.6 L740.2 348.6 L740.2 349.6 L740.2 350.6 L740.2 351.6 L740.2 352.6 L740.2 353.6 L740.2 354.6 L740.2 355.6 L740.2 356.6 L740.2 357.6 L740.2 358.6 L740.2 359.6 L740.2 360.6 L740.2 361.6 L740.2 362.6 L740.2 363.6 L740.2 364.6 L740.2 365.6 L740.2 366.6 L740.1 367.6 L740.1 368.6 L740.1 369.6 L740.1 370.6 L740.1 371.6 L740.1 372.6 L740.1 373.6 L740.1 374.6 L740.1 375.6 L740.0 376.6 L740.0 377.6 L740.0 378.6 L740.0 379.6 L740.0 380.6 L740.0 381.6 L740.0 382.6 L739.9 383.6 L739.9 384.6 L739.9 385.6 L739.9 386.6 L739.8 387.6 L739.8 388.6 L739.8 389.6 L739.7 390.6 L739.7 391.6 L739.7 392.6 L739.6 393.6 L739.6 394.6 L739.5 395.6 L739.4 396.6 L739.3 397.6 L739.2 398.6 L739.0 399.6 L738.9 400.6 L738.7 401.6 L738.5 402.6 L738.3 403.6 L738.1 404.6 L737.9 405.6 L737.7 406.6 L737.5 407.6 L737.2 408.6 L737.0 409.6 L736.8 410.6 L736.5 411.6 L736.3 412.6 L736.0 413.6 L735.7 414.6 L735.4 415.6 L735.1 416.6 L734.8 417.6 L734.4 418.6 L734.1 419.6 L733.8 420.6 L733.5 421.6 L733.2 422.6 L732.9 423.6 L732.5 424.6 L732.2 425.6 L731.9 426.6 L731.6 427.6 L731.2 428.6 L730.9 429.6 L730.6 430.6 L730.3 431.6 L729.9 432.6 L729.6 433.6 L729.3 434.6 L729.0 435.6 L728.7 436.6 L728.5 437.6 L728.2 438.6 L728.0 439.6 L727.7 440.6 L727.5 441.6 L727.3 442.6 L727.1 443.6 L726.8 444.6 L726.6 445.6 L726.4 446.6 L726.3 447.6 L726.1 448.6 L725.9 449.6 L725.7 450.6 L725.6 451.6 L725.5 452.6 L725.3 453.6 L725.2 454.6 L725.1 455.6 L725.0 456.6 L724.9 457.6 L724.8 458.6 L724.7 459.6 L724.6 460.6 L724.5 461.6 L724.5 462.6 L724.4 463.6 L724.3 464.6 L724.3 465.6 L724.3 466.6 L724.2 467.6 L724.2 468.6 L724.2 469.6 L724.2 470.6 L724.2 471.6 L724.3 472.6 L724.3 473.6 L724.3 474.6 L724.4 475.6 L724.4 476.6 L724.4 477.6 L724.5 478.6 L724.5 479.6 L724.6 480.6 L724.6 481.6 L724.7 482.6 L724.8 483.6 L724.8 484.6 L724.9 485.6 L725.0 486.6 L725.2 487.6 L725.3 488.6 L725.4 489.6 L725.6 490.6 L725.7 491.6 L725.9 492.6 L726.0 493.6 L726.2 494.6 L726.3 495.6 L726.4 496.6 L726.6 497.6 L726.7 498.6 L726.8 499.6 L727.0 500.6 L727.1 501.6 L727.2 502.6 L727.3 503.6 L727.3 504.6 L727.3 505.6 L727.3 506.6 L727.3 507.6 L727.3 508.6 L727.2 509.6 L727.1 510.6 L727.0 511.6 L726.9 512.6 L726.8 513.6 L726.7 514.6 L726.6 515.6 L726.5 516.6 L726.4 517.6 L726.3 518.6 L726.2 519.6 L726.1 520.6 L726.1 521.6 L726.0 522.6 L725.9 523.6 L725.8 524.6 L725.7 525.6 L725.6 526.6 L725.5 527.6 L725.4 528.6 L725.4 529.6 L725.3 530.6 L725.2 531.6 L725.2 532.6 L725.1 533.6 L725.1 534.6 L725.0 535.6 L725.0 536.6 L725.0 537.6 L725.0 538.6 L725.1 539.6 L725.1 540.6 L725.1 541.6 L725.2 542.6 L725.3 543.6 L725.3 544.6 L725.4 545.6 L725.5 546.6 L725.6 547.6 L725.7 548.6 L725.8 549.6 L725.9 550.6 L726.0 551.6 L726.1 552.6 L726.2 553.6 L726.4 554.6 L726.5 555.6 L726.7 556.6 L726.9 557.6 L727.2 558.6 L727.4 559.6 L727.7 560.6 L727.9 561.6 L728.2 562.6 L728.5 563.6 L728.8 564.6 L729.1 565.6 L729.3 566.6 L729.6 567.6 L729.9 568.6 L730.2 569.6 L730.4 570.6 L730.7 571.6 L731.0 572.6 L731.2 573.6 L731.5 574.6 L731.8 575.6 L732.1 576.6 L732.4 577.6 L732.6 578.6 L732.9 579.6 L733.2 580.6 L733.5 581.6 L733.8 582.6 L734.0 583.6 L734.3 584.6 L734.6 585.6 L734.8 586.6 L735.1 587.6 L735.3 588.6 L735.6 589.6 L735.9 590.6 L736.1 591.6 L736.4 592.6 L736.6 593.6 L736.9 594.6 L737.1 595.6 L737.4 596.6 L737.6 597.6 L737.9 598.6 L738.1 599.6 L738.3 600.6 L738.5 601.6 L738.7 602.6 L738.9 603.6 L739.1 604.6 L739.3 605.6 L739.5 606.6 L739.7 607.6 L739.9 608.6 L740.1 609.6 L740.3 610.6 L740.5 611.6 L740.6 612.6 L740.8 613.6 L741.0 614.6 L741.1 615.3 L741.1 615.3 L741.2 614.6 L741.4 613.6 L741.6 612.6 L741.7 611.6 L741.9 610.6 L742.1 609.6 L742.3 608.6 L742.5 607.6 L742.7 606.6 L742.9 605.6 L743.1 604.6 L743.3 603.6 L743.5 602.6 L743.7 601.6 L743.9 600.6 L744.1 599.6 L744.3 598.6 L744.6 597.6 L744.8 596.6 L745.1 595.6 L745.3 594.6 L745.6 593.6 L745.8 592.6 L746.1 591.6 L746.3 590.6 L746.6 589.6 L746.9 588.6 L747.1 587.6 L747.4 586.6 L747.6 585.6 L747.9 584.6 L748.2 583.6 L748.4 582.6 L748.7 581.6 L749.0 580.6 L749.3 579.6 L749.6 578.6 L749.8 577.6 L750.1 576.6 L750.4 575.6 L750.7 574.6 L751.0 573.6 L751.2 572.6 L751.5 571.6 L751.8 570.6 L752.0 569.6 L752.3 568.6 L752.6 567.6 L752.9 566.6 L753.1 565.6 L753.4 564.6 L753.7 563.6 L754.0 562.6 L754.3 561.6 L754.5 560.6 L754.8 559.6 L755.0 558.6 L755.3 557.6 L755.5 556.6 L755.7 555.6 L755.8 554.6 L756.0 553.6 L756.1 552.6 L756.2 551.6 L756.3 550.6 L756.4 549.6 L756.5 548.6 L756.6 547.6 L756.7 546.6 L756.8 545.6 L756.9 544.6 L756.9 543.6 L757.0 542.6 L757.1 541.6 L757.1 540.6 L757.1 539.6 L757.2 538.6 L757.2 537.6 L757.2 536.6 L757.2 535.6 L757.1 534.6 L757.1 533.6 L757.0 532.6 L757.0 531.6 L756.9 530.6 L756.8 529.6 L756.8 528.6 L756.7 527.6 L756.6 526.6 L756.5 525.6 L756.4 524.6 L756.3 523.6 L756.2 522.6 L756.1 521.6 L756.1 520.6 L756.0 519.6 L755.9 518.6 L755.8 517.6 L755.7 516.6 L755.6 515.6 L755.5 514.6 L755.4 513.6 L755.3 512.6 L755.2 511.6 L755.1 510.6 L755.0 509.6 L754.9 508.6 L754.9 507.6 L754.9 506.6 L754.9 505.6 L754.9 504.6 L754.9 503.6 L755.0 502.6 L755.1 501.6 L755.2 500.6 L755.4 499.6 L755.5 498.6 L755.6 497.6 L755.8 496.6 L755.9 495.6 L756.0 494.6 L756.2 493.6 L756.3 492.6 L756.5 491.6 L756.6 490.6 L756.8 489.6 L756.9 488.6 L757.0 487.6 L757.2 486.6 L757.3 485.6 L757.4 484.6 L757.4 483.6 L757.5 482.6 L757.6 481.6 L757.6 480.6 L757.7 479.6 L757.7 478.6 L757.8 477.6 L757.8 476.6 L757.8 475.6 L757.9 474.6 L757.9 473.6 L757.9 472.6 L758.0 471.6 L758.0 470.6 L758.0 469.6 L758.0 468.6 L758.0 467.6 L757.9 466.6 L757.9 465.6 L757.9 464.6 L757.8 463.6 L757.7 462.6 L757.7 461.6 L757.6 460.6 L757.5 459.6 L757.4 458.6 L757.3 457.6 L757.2 456.6 L757.1 455.6 L757.0 454.6 L756.9 453.6 L756.7 452.6 L756.6 451.6 L756.5 450.6 L756.3 449.6 L756.1 448.6 L755.9 447.6 L755.8 446.6 L755.6 445.6 L755.4 444.6 L755.1 443.6 L754.9 442.6 L754.7 441.6 L754.5 440.6 L754.2 439.6 L754.0 438.6 L753.7 437.6 L753.5 436.6 L753.2 435.6 L752.9 434.6 L752.6 433.6 L752.3 432.6 L751.9 431.6 L751.6 430.6 L751.3 429.6 L751.0 428.6 L750.6 427.6 L750.3 426.6 L750.0 425.6 L749.7 424.6 L749.3 423.6 L749.0 422.6 L748.7 421.6 L748.4 420.6 L748.1 419.6 L747.8 418.6 L747.4 417.6 L747.1 416.6 L746.8 415.6 L746.5 414.6 L746.2 413.6 L745.9 412.6 L745.7 411.6 L745.4 410.6 L745.2 409.6 L745.0 408.6 L744.7 407.6 L744.5 406.6 L744.3 405.6 L744.1 404.6 L743.9 403.6 L743.7 402.6 L743.5 401.6 L743.3 400.6 L743.2 399.6 L743.0 398.6 L742.9 397.6 L742.8 396.6 L742.7 395.6 L742.6 394.6 L742.6 393.6 L742.5 392.6 L742.5 391.6 L742.5 390.6 L742.4 389.6 L742.4 388.6 L742.4 387.6 L742.3 386.6 L742.3 385.6 L742.3 384.6 L742.3 383.6 L742.2 382.6 L742.2 381.6 L742.2 380.6 L742.2 379.6 L742.2 378.6 L742.2 377.6 L742.2 376.6 L742.1 375.6 L742.1 374.6 L742.1 373.6 L742.1 372.6 L742.1 371.6 L742.1 370.6 L742.1 369.6 L742.1 368.6 L742.1 367.6 L742.0 366.6 L742.0 365.6 L742.0 364.6 L742.0 363.6 L742.0 362.6 L742.0 361.6 L742.0 360.6 L742.0 359.6 L742.0 358.6 L742.0 357.6 L742.0 356.6 L742.0 355.6 L742.0 354.6 L742.0 353.6 L742.0 352.6 L742.0 351.6 L742.0 350.6 L742.0 349.6 L742.0 348.6 L742.0 347.6 L742.0 346.6 L742.0 345.6 L742.0 344.6 L742.0 343.6 L742.0 342.6 L742.0 341.6 L742.0 340.6 L741.9 339.6 L741.9 338.6 L741.9 337.6 L741.9 336.6 L741.9 335.6 L741.9 334.6 L741.9 333.6 L741.9 332.6 L741.9 331.6 L741.9 330.6 L741.9 329.6 L741.9 328.6 L741.9 327.6 L741.9 326.6 L741.9 325.6 L741.9 324.6 L741.9 323.6 L741.9 322.6 L741.9 321.6 L741.9 320.6 L741.9 319.6 L741.9 318.6 L741.9 317.6 L741.9 316.6 L741.9 315.6 L741.9 314.6 L741.9 313.6 L741.9 312.6 L741.9 311.6 L741.9 310.6 L741.9 309.6 L741.9 308.6 L741.9 307.6 L741.9 306.6 L741.9 305.6 L741.8 304.6 L741.8 303.6 L741.8 302.6 L741.7 301.6 L741.7 300.6 L741.6 299.6 L741.4 298.6 L741.1 297.6 Z" fill="#7b7beb" stroke="#2c2cff" stroke-width="1.6" stroke-linejoin="round"/>
<path d="M863.0 252.5 L862.9 253.5 L862.9 254.5 L862.8 255.5 L862.8 256.5 L862.7 257.5 L862.6 258.5 L862.6 259.5 L862.5 260.5 L862.5 261.5 L862.4 262.5 L862.4 263.5 L862.3 264.5 L862.3 265.5 L862.2 266.5 L862.2 267.5 L862.1 268.5 L862.1 269.5 L862.0 270.5 L862.0 271.5 L862.0 272.5 L861.9 273.5 L861.9 274.5 L861.8 275.5 L861.8 276.5 L861.8 277.5 L861.7 278.5 L861.7 279.5 L861.7 280.5 L861.6 281.5 L861.6 282.5 L861.5 283.5 L861.5 284.5 L861.5 285.5 L861.5 286.5 L861.4 287.5 L861.4 288.5 L861.4 289.5 L861.3 290.5 L861.3 291.5 L861.3 292.5 L861.3 293.5 L861.2 294.5 L861.2 295.5 L861.2 296.5 L861.2 297.5 L861.2 298.5 L861.2 299.5 L861.1 300.5 L861.1 301.5 L861.1 302.5 L861.1 303.5 L861.1 304.5 L861.1 305.5 L861.1 306.5 L861.1 307.5 L861.1 308.5 L861.1 309.5 L861.0 310.5 L861.0 311.5 L861.0 312.5 L861.0 313.5 L861.0 314.5 L860.9 315.5 L860.8 316.5 L860.8 317.5 L860.7 318.5 L860.6 319.5 L860.5 320.5 L860.5 321.5 L860.4 322.5 L860.3 323.5 L860.2 324.5 L860.1 325.5 L860.1 326.5 L860.0 327.5 L860.0 328.5 L860.0 329.5 L859.9 330.5 L859.9 331.5 L859.9 332.5 L859.9 333.5 L859.9 334.5 L859.8 335.5 L859.8 336.5 L859.8 337.5 L859.8 338.5 L859.8 339.5 L859.8 340.5 L859.7 341.5 L859.7 342.5 L859.7 343.5 L859.6 344.5 L859.6 345.5 L859.6 346.5 L859.5 347.5 L859.5 348.5 L859.4 349.5 L859.4 350.5 L859.3 351.5 L859.3 352.5 L859.2 353.5 L859.2 354.5 L859.1 355.5 L859.1 356.5 L859.0 357.5 L859.0 358.5 L858.9 359.5 L858.9 360.5 L858.8 361.5 L858.7 362.5 L858.7 363.5 L858.6 364.5 L858.5 365.5 L858.5 366.5 L858.4 367.5 L858.3 368.5 L858.2 369.5 L858.1 370.5 L858.0 371.5 L857.9 372.5 L857.8 373.5 L857.7 374.5 L857.5 375.5 L857.4 376.5 L857.3 377.5 L857.2 378.5 L857.1 379.5 L857.0 380.5 L856.8 381.5 L856.7 382.5 L856.6 383.5 L856.4 384.5 L856.3 385.5 L856.2 386.5 L856.0 387.5 L855.9 388.5 L855.8 389.5 L855.6 390.5 L855.5 391.5 L855.4 392.5 L855.3 393.5 L855.2 394.5 L855.0 395.5 L854.9 396.5 L854.8 397.5 L854.7 398.5 L854.6 399.5 L854.5 400.5 L854.4 401.5 L854.3 402.5 L854.2 403.5 L854.1 404.5 L854.0 405.5 L853.9 406.5 L853.8 407.5 L853.7 408.5 L853.6 409.5 L853.5 410.5 L853.4 411.5 L853.3 412.5 L853.2 413.5 L853.1 414.5 L853.0 415.5 L852.9 416.5 L852.8 417.5 L852.7 418.5 L852.6 419.5 L852.5 420.5 L852.4 421.5 L852.3 422.5 L852.2 423.5 L852.1 424.5 L852.0 425.5 L852.0 426.5 L851.9 427.5 L851.8 428.5 L851.8 429.5 L851.7 430.5 L851.6 431.5 L851.6 432.5 L851.5 433.5 L851.4 434.5 L851.4 435.5 L851.3 436.5 L851.2 437.5 L851.2 438.5 L851.1 439.5 L851.0 440.5 L850.9 441.5 L850.9 442.5 L850.8 443.5 L850.7 444.5 L850.6 445.5 L850.5 446.5 L850.5 447.5 L850.4 448.5 L850.3 449.5 L850.3 450.5 L850.3 451.5 L850.2 452.5 L850.2 453.5 L850.2 454.5 L850.2 455.5 L850.1 456.5 L850.1 457.5 L850.1 458.5 L850.1 459.5 L850.1 460.5 L850.1 461.5 L850.1 462.5 L850.1 463.5 L850.1 464.5 L850.1 465.5 L850.1 466.5 L850.1 467.5 L850.1 468.5 L850.1 469.5 L850.1 470.5 L850.1 471.5 L850.1 472.5 L850.1 473.5 L850.1 474.5 L850.1 475.5 L850.1 476.5 L850.1 477.5 L850.2 478.5 L850.2 479.5 L850.2 480.5 L850.2 481.5 L850.3 482.5 L850.3 483.5 L850.3 484.5 L850.4 485.5 L850.4 486.5 L850.4 487.5 L850.5 488.5 L850.5 489.5 L850.5 490.5 L850.6 491.5 L850.6 492.5 L850.6 493.5 L850.6 494.5 L850.7 495.5 L850.7 496.5 L850.7 497.5 L850.8 498.5 L850.8 499.5 L850.8 500.5 L850.8 501.5 L850.9 502.5 L850.9 503.5 L850.9 504.5 L850.9 505.5 L851.0 506.5 L851.0 507.5 L851.0 508.5 L851.0 509.5 L851.0 510.5 L851.0 511.5 L851.1 512.5 L851.1 513.5 L851.1 514.5 L851.1 515.5 L851.1 516.5 L851.2 517.5 L851.2 518.5 L851.2 519.5 L851.3 520.5 L851.3 521.5 L851.4 522.5 L851.4 523.5 L851.5 524.5 L851.5 525.5 L851.6 526.5 L851.6 527.5 L851.7 528.5 L851.8 529.5 L851.8 530.5 L851.9 531.5 L851.9 532.5 L852.0 533.5 L852.1 534.5 L852.1 535.5 L852.1 536.5 L852.2 537.5 L852.2 538.5 L852.3 539.5 L852.3 540.5 L852.4 541.5 L852.4 542.5 L852.5 543.5 L852.5 544.5 L852.6 545.5 L852.6 546.5 L852.7 547.5 L852.7 548.5 L852.8 549.5 L852.8 550.5 L852.9 551.5 L853.0 552.5 L853.0 553.5 L853.1 554.5 L853.2 555.5 L853.2 556.5 L853.3 557.5 L853.4 558.5 L853.4 559.5 L853.5 560.5 L853.6 561.5 L853.7 562.5 L853.8 563.5 L853.9 564.5 L854.0 565.5 L854.1 566.5 L854.2 567.5 L854.3 568.5 L854.4 569.5 L854.6 570.5 L854.7 571.5 L854.9 572.5 L855.1 573.5 L855.2 574.5 L855.4 575.5 L855.6 576.5 L855.8 577.5 L856.0 578.5 L856.2 579.5 L856.3 580.5 L856.5 581.5 L856.7 582.5 L856.9 583.5 L857.1 584.5 L857.2 585.5 L857.4 586.5 L857.5 587.5 L857.7 588.5 L857.9 589.5 L858.0 590.5 L858.2 591.5 L858.3 592.5 L858.5 593.5 L858.6 594.5 L858.8 595.5 L858.9 596.5 L859.0 597.5 L859.2 598.5 L859.3 599.5 L859.4 600.5 L859.6 601.5 L859.7 602.5 L859.8 603.5 L860.0 604.5 L860.1 605.5 L860.2 606.5 L860.3 607.5 L860.5 608.5 L860.6 609.5 L860.7 610.5 L860.8 611.5 L860.9 612.5 L861.0 613.5 L861.0 614.5 L861.1 615.5 L861.2 616.5 L861.2 617.5 L861.3 618.5 L861.4 619.5 L861.4 620.5 L861.5 621.5 L861.5 622.5 L861.6 623.5 L861.6 624.5 L861.7 625.5 L861.7 626.5 L861.8 627.5 L861.8 628.5 L861.9 629.5 L861.9 630.5 L862.0 631.5 L862.0 632.5 L862.1 633.5 L862.1 634.5 L862.1 635.5 L862.2 636.5 L862.2 637.5 L862.3 638.5 L862.3 639.5 L862.3 640.5 L862.4 641.5 L862.4 642.5 L862.5 643.5 L862.5 644.5 L862.6 645.5 L862.6 646.5 L862.7 647.5 L862.7 648.5 L862.8 649.5 L862.8 650.5 L862.9 651.5 L862.9 652.5 L863.0 653.5 L863.0 653.7 L863.0 653.7 L863.0 653.5 L863.1 652.5 L863.1 651.5 L863.2 650.5 L863.2 649.5 L863.3 648.5 L863.3 647.5 L863.4 646.5 L863.4 645.5 L863.5 644.5 L863.5 643.5 L863.6 642.5 L863.6 641.5 L863.7 640.5 L863.7 639.5 L863.7 638.5 L863.8 637.5 L863.8 636.5 L863.9 635.5 L863.9 634.5 L863.9 633.5 L864.0 632.5 L864.0 631.5 L864.1 630.5 L864.1 629.5 L864.2 628.5 L864.2 627.5 L864.3 626.5 L864.3 625.5 L864.4 624.5 L864.4 623.5 L864.5 622.5 L864.5 621.5 L864.6 620.5 L864.6 619.5 L864.7 618.5 L864.8 617.5 L864.8 616.5 L864.9 615.5 L865.0 614.5 L865.0 613.5 L865.1 612.5 L865.2 611.5 L865.3 610.5 L865.4 609.5 L865.5 608.5 L865.7 607.5 L865.8 606.5 L865.9 605.5 L866.0 604.5 L866.2 603.5 L866.3 602.5 L866.4 601.5 L866.6 600.5 L866.7 599.5 L866.8 598.5 L867.0 597.5 L867.1 596.5 L867.2 595.5 L867.4 594.5 L867.5 593.5 L867.7 592.5 L867.8 591.5 L868.0 590.5 L868.1 589.5 L868.3 588.5 L868.5 587.5 L868.6 586.5 L868.8 585.5 L868.9 584.5 L869.1 583.5 L869.3 582.5 L869.5 581.5 L869.7 580.5 L869.8 579.5 L870.0 578.5 L870.2 577.5 L870.4 576.5 L870.6 575.5 L870.8 574.5 L870.9 573.5 L871.1 572.5 L871.3 571.5 L871.4 570.5 L871.6 569.5 L871.7 568.5 L871.8 567.5 L871.9 566.5 L872.0 565.5 L872.1 564.5 L872.2 563.5 L872.3 562.5 L872.4 561.5 L872.5 560.5 L872.6 559.5 L872.6 558.5 L872.7 557.5 L872.8 556.5 L872.8 555.5 L872.9 554.5 L873.0 553.5 L873.0 552.5 L873.1 551.5 L873.2 550.5 L873.2 549.5 L873.3 548.5 L873.3 547.5 L873.4 546.5 L873.4 545.5 L873.5 544.5 L873.5 543.5 L873.6 542.5 L873.6 541.5 L873.7 540.5 L873.7 539.5 L873.8 538.5 L873.8 537.5 L873.9 536.5 L873.9 535.5 L873.9 534.5 L874.0 533.5 L874.1 532.5 L874.1 531.5 L874.2 530.5 L874.2 529.5 L874.3 528.5 L874.4 527.5 L874.4 526.5 L874.5 525.5 L874.5 524.5 L874.6 523.5 L874.6 522.5 L874.7 521.5 L874.7 520.5 L874.8 519.5 L874.8 518.5 L874.8 517.5 L874.9 516.5 L874.9 515.5 L874.9 514.5 L874.9 513.5 L874.9 512.5 L875.0 511.5 L875.0 510.5 L875.0 509.5 L875.0 508.5 L875.0 507.5 L875.0 506.5 L875.1 505.5 L875.1 504.5 L875.1 503.5 L875.1 502.5 L875.2 501.5 L875.2 500.5 L875.2 499.5 L875.2 498.5 L875.3 497.5 L875.3 496.5 L875.3 495.5 L875.4 494.5 L875.4 493.5 L875.4 492.5 L875.4 491.5 L875.5 490.5 L875.5 489.5 L875.5 488.5 L875.6 487.5 L875.6 486.5 L875.6 485.5 L875.7 484.5 L875.7 483.5 L875.7 482.5 L875.8 481.5 L875.8 480.5 L875.8 479.5 L875.8 478.5 L875.9 477.5 L875.9 476.5 L875.9 475.5 L875.9 474.5 L875.9 473.5 L875.9 472.5 L875.9 471.5 L875.9 470.5 L875.9 469.5 L875.9 468.5 L875.9 467.5 L875.9 466.5 L875.9 465.5 L875.9 464.5 L875.9 463.5 L875.9 462.5 L875.9 461.5 L875.9 460.5 L875.9 459.5 L875.9 458.5 L875.9 457.5 L875.9 456.5 L875.8 455.5 L875.8 454.5 L875.8 453.5 L875.8 452.5 L875.7 451.5 L875.7 450.5 L875.7 449.5 L875.6 448.5 L875.5 447.5 L875.5 446.5 L875.4 445.5 L875.3 444.5 L875.2 443.5 L875.1 442.5 L875.1 441.5 L875.0 440.5 L874.9 439.5 L874.8 438.5 L874.8 437.5 L874.7 436.5 L874.6 435.5 L874.6 434.5 L874.5 433.5 L874.4 432.5 L874.4 431.5 L874.3 430.5 L874.2 429.5 L874.2 428.5 L874.1 427.5 L874.0 426.5 L874.0 425.5 L873.9 424.5 L873.8 423.5 L873.7 422.5 L873.6 421.5 L873.5 420.5 L873.4 419.5 L873.3 418.5 L873.2 417.5 L873.1 416.5 L873.0 415.5 L872.9 414.5 L872.8 413.5 L872.7 412.5 L872.6 411.5 L872.5 410.5 L872.4 409.5 L872.3 408.5 L872.2 407.5 L872.1 406.5 L872.0 405.5 L871.9 404.5 L871.8 403.5 L871.7 402.5 L871.6 401.5 L871.5 400.5 L871.4 399.5 L871.3 398.5 L871.2 397.5 L871.1 396.5 L871.0 395.5 L870.8 394.5 L870.7 393.5 L870.6 392.5 L870.5 391.5 L870.4 390.5 L870.2 389.5 L870.1 388.5 L870.0 387.5 L869.8 386.5 L869.7 385.5 L869.6 384.5 L869.4 383.5 L869.3 382.5 L869.2 381.5 L869.0 380.5 L868.9 379.5 L868.8 378.5 L868.7 377.5 L868.6 376.5 L868.5 375.5 L868.3 374.5 L868.2 373.5 L868.1 372.5 L868.0 371.5 L867.9 370.5 L867.8 369.5 L867.7 368.5 L867.6 367.5 L867.5 366.5 L867.5 365.5 L867.4 364.5 L867.3 363.5 L867.3 362.5 L867.2 361.5 L867.1 360.5 L867.1 359.5 L867.0 358.5 L867.0 357.5 L866.9 356.5 L866.9 355.5 L866.8 354.5 L866.8 353.5 L866.7 352.5 L866.7 351.5 L866.6 350.5 L866.6 349.5 L866.5 348.5 L866.5 347.5 L866.4 346.5 L866.4 345.5 L866.4 344.5 L866.3 343.5 L866.3 342.5 L866.3 341.5 L866.2 340.5 L866.2 339.5 L866.2 338.5 L866.2 337.5 L866.2 336.5 L866.2 335.5 L866.1 334.5 L866.1 333.5 L866.1 332.5 L866.1 331.5 L866.1 330.5 L866.0 329.5 L866.0 328.5 L866.0 327.5 L865.9 326.5 L865.9 325.5 L865.8 324.5 L865.7 323.5 L865.6 322.5 L865.5 321.5 L865.5 320.5 L865.4 319.5 L865.3 318.5 L865.2 317.5 L865.2 316.5 L865.1 315.5 L865.0 314.5 L865.0 313.5 L865.0 312.5 L865.0 311.5 L865.0 310.5 L864.9 309.5 L864.9 308.5 L864.9 307.5 L864.9 306.5 L864.9 305.5 L864.9 304.5 L864.9 303.5 L864.9 302.5 L864.9 301.5 L864.9 300.5 L864.8 299.5 L864.8 298.5 L864.8 297.5 L864.8 296.5 L864.8 295.5 L864.8 294.5 L864.7 293.5 L864.7 292.5 L864.7 291.5 L864.7 290.5 L864.6 289.5 L864.6 288.5 L864.6 287.5 L864.5 286.5 L864.5 285.5 L864.5 284.5 L864.5 283.5 L864.4 282.5 L864.4 281.5 L864.3 280.5 L864.3 279.5 L864.3 278.5 L864.2 277.5 L864.2 276.5 L864.2 275.5 L864.1 274.5 L864.1 273.5 L864.0 272.5 L864.0 271.5 L864.0 270.5 L863.9 269.5 L863.9 268.5 L863.8 267.5 L863.8 266.5 L863.7 265.5 L863.7 264.5 L863.6 263.5 L863.6 262.5 L863.5 261.5 L863.5 260.5 L863.4 259.5 L863.4 258.5 L863.3 257.5 L863.2 256.5 L863.2 255.5 L863.1 254.5 L863.1 253.5 L863.0 252.5 Z" fill="#7b7beb" stroke="#2c2cff" stroke-width="1.6" stroke-linejoin="round"/>
<path d="M984.9 106.6 L984.9 107.6 L984.9 108.6 L984.9 109.6 L984.9 110.6 L984.8 111.6 L984.8 112.6 L984.8 113.6 L984.8 114.6 L984.8 115.6 L984.8 116.6 L984.8 117.6 L984.8 118.6 L984.8 119.6 L984.8 120.6 L984.8 121.6 L984.8 122.6 L984.8 123.6 L984.8 124.6 L984.8 125.6 L984.8 126.6 L984.8 127.6 L984.8 128.6 L984.8 129.6 L984.8 130.6 L984.8 131.6 L984.8 132.6 L984.8 133.6 L984.8 134.6 L984.8 135.6 L984.8 136.6 L984.8 137.6 L984.8 138.6 L984.8 139.6 L984.8 140.6 L984.8 141.6 L984.8 142.6 L984.8 143.6 L984.8 144.6 L984.8 145.6 L984.8 146.6 L984.8 147.6 L984.8 148.6 L984.8 149.6 L984.8 150.6 L984.8 151.6 L984.8 152.6 L984.8 153.6 L984.8 154.6 L984.8 155.6 L984.8 156.6 L984.8 157.6 L984.8 158.6 L984.8 159.6 L984.8 160.6 L984.8 161.6 L984.8 162.6 L984.8 163.6 L984.8 164.6 L984.8 165.6 L984.8 166.6 L984.8 167.6 L984.8 168.6 L984.8 169.6 L984.8 170.6 L984.8 171.6 L984.8 172.6 L984.7 173.6 L984.7 174.6 L984.7 175.6 L984.7 176.6 L984.7 177.6 L984.7 178.6 L984.7 179.6 L984.7 180.6 L984.6 181.6 L984.6 182.6 L984.6 183.6 L984.6 184.6 L984.6 185.6 L984.6 186.6 L984.5 187.6 L984.5 188.6 L984.5 189.6 L984.5 190.6 L984.5 191.6 L984.5 192.6 L984.4 193.6 L984.4 194.6 L984.4 195.6 L984.4 196.6 L984.4 197.6 L984.3 198.6 L984.3 199.6 L984.3 200.6 L984.3 201.6 L984.3 202.6 L984.2 203.6 L984.2 204.6 L984.2 205.6 L984.2 206.6 L984.1 207.6 L984.1 208.6 L984.1 209.6 L984.0 210.6 L984.0 211.6 L984.0 212.6 L983.9 213.6 L983.9 214.6 L983.9 215.6 L983.8 216.6 L983.8 217.6 L983.8 218.6 L983.7 219.6 L983.7 220.6 L983.6 221.6 L983.6 222.6 L983.5 223.6 L983.4 224.6 L983.4 225.6 L983.3 226.6 L983.2 227.6 L983.1 228.6 L983.1 229.6 L983.0 230.6 L982.9 231.6 L982.8 232.6 L982.8 233.6 L982.7 234.6 L982.7 235.6 L982.6 236.6 L982.6 237.6 L982.6 238.6 L982.5 239.6 L982.5 240.6 L982.5 241.6 L982.4 242.6 L982.4 243.6 L982.4 244.6 L982.4 245.6 L982.3 246.6 L982.3 247.6 L982.3 248.6 L982.3 249.6 L982.3 250.6 L982.2 251.6 L982.2 252.6 L982.2 253.6 L982.2 254.6 L982.2 255.6 L982.1 256.6 L982.1 257.6 L982.1 258.6 L982.1 259.6 L982.1 260.6 L982.1 261.6 L982.0 262.6 L982.0 263.6 L982.0 264.6 L982.0 265.6 L982.0 266.6 L981.9 267.6 L981.9 268.6 L981.9 269.6 L981.9 270.6 L981.8 271.6 L981.8 272.6 L981.8 273.6 L981.8 274.6 L981.8 275.6 L981.7 276.6 L981.7 277.6 L981.7 278.6 L981.7 279.6 L981.6 280.6 L981.6 281.6 L981.6 282.6 L981.6 283.6 L981.5 284.6 L981.5 285.6 L981.5 286.6 L981.5 287.6 L981.4 288.6 L981.4 289.6 L981.4 290.6 L981.4 291.6 L981.3 292.6 L981.3 293.6 L981.3 294.6 L981.3 295.6 L981.3 296.6 L981.2 297.6 L981.2 298.6 L981.2 299.6 L981.2 300.6 L981.1 301.6 L981.1 302.6 L981.1 303.6 L981.1 304.6 L981.0 305.6 L981.0 306.6 L981.0 307.6 L981.0 308.6 L981.0 309.6 L980.9 310.6 L980.9 311.6 L980.9 312.6 L980.9 313.6 L980.8 314.6 L980.8 315.6 L980.8 316.6 L980.8 317.6 L980.7 318.6 L980.7 319.6 L980.7 320.6 L980.7 321.6 L980.6 322.6 L980.6 323.6 L980.6 324.6 L980.6 325.6 L980.5 326.6 L980.5 327.6 L980.5 328.6 L980.4 329.6 L980.4 330.6 L980.4 331.6 L980.3 332.6 L980.3 333.6 L980.2 334.6 L980.2 335.6 L980.2 336.6 L980.1 337.6 L980.1 338.6 L980.1 339.6 L980.0 340.6 L980.0 341.6 L980.0 342.6 L980.0 343.6 L980.0 344.6 L980.0 345.6 L980.0 346.6 L980.0 347.6 L980.0 348.6 L980.0 349.6 L980.0 350.6 L980.0 351.6 L980.0 352.6 L979.9 353.6 L979.9 354.6 L979.9 355.6 L979.8 356.6 L979.8 357.6 L979.8 358.6 L979.7 359.6 L979.6 360.6 L979.6 361.6 L979.5 362.6 L979.5 363.6 L979.4 364.6 L979.3 365.6 L979.2 366.6 L979.2 367.6 L979.1 368.6 L979.0 369.6 L978.9 370.6 L978.9 371.6 L978.8 372.6 L978.7 373.6 L978.6 374.6 L978.6 375.6 L978.5 376.6 L978.4 377.6 L978.4 378.6 L978.3 379.6 L978.2 380.6 L978.1 381.6 L978.1 382.6 L978.0 383.6 L977.9 384.6 L977.9 385.6 L977.8 386.6 L977.7 387.6 L977.6 388.6 L977.5 389.6 L977.5 390.6 L977.4 391.6 L977.3 392.6 L977.2 393.6 L977.1 394.6 L977.1 395.6 L977.0 396.6 L976.9 397.6 L976.8 398.6 L976.7 399.6 L976.7 400.6 L976.6 401.6 L976.5 402.6 L976.5 403.6 L976.4 404.6 L976.3 405.6 L976.2 406.6 L976.2 407.6 L976.1 408.6 L976.1 409.6 L976.0 410.6 L975.9 411.6 L975.9 412.6 L975.8 413.6 L975.8 414.6 L975.7 415.6 L975.7 416.6 L975.6 417.6 L975.6 418.6 L975.5 419.6 L975.5 420.6 L975.4 421.6 L975.4 422.6 L975.3 423.6 L975.3 424.6 L975.2 425.6 L975.2 426.6 L975.1 427.6 L975.1 428.6 L975.0 429.6 L975.0 430.6 L974.9 431.6 L974.9 432.6 L974.8 433.6 L974.8 434.6 L974.7 435.6 L974.7 436.6 L974.6 437.6 L974.6 438.6 L974.5 439.6 L974.4 440.6 L974.4 441.6 L974.3 442.6 L974.3 443.6 L974.2 444.6 L974.1 445.6 L974.1 446.6 L974.0 447.6 L974.0 448.6 L973.9 449.6 L973.9 450.6 L973.8 451.6 L973.8 452.6 L973.8 453.6 L973.8 454.6 L973.7 455.6 L973.7 456.6 L973.7 457.6 L973.7 458.6 L973.7 459.6 L973.7 460.6 L973.7 461.6 L973.7 462.6 L973.7 463.6 L973.7 464.6 L973.7 465.6 L973.7 466.6 L973.7 467.6 L973.8 468.6 L973.8 469.6 L973.8 470.6 L973.8 471.6 L973.8 472.6 L973.8 473.6 L973.9 474.6 L973.9 475.6 L973.9 476.6 L973.9 477.6 L973.9 478.6 L974.0 479.6 L974.0 480.6 L974.0 481.6 L974.0 482.6 L974.1 483.6 L974.1 484.6 L974.1 485.6 L974.1 486.6 L974.2 487.6 L974.2 488.6 L974.2 489.6 L974.2 490.6 L974.3 491.6 L974.3 492.6 L974.3 493.6 L974.4 494.6 L974.4 495.6 L974.4 496.6 L974.5 497.6 L974.5 498.6 L974.6 499.6 L974.6 500.6 L974.7 501.6 L974.7 502.6 L974.8 503.6 L974.8 504.6 L974.9 505.6 L974.9 506.6 L975.0 507.6 L975.0 508.6 L975.1 509.6 L975.1 510.6 L975.2 511.6 L975.3 512.6 L975.3 513.6 L975.4 514.6 L975.4 515.6 L975.5 516.6 L975.5 517.6 L975.6 518.6 L975.6 519.6 L975.7 520.6 L975.8 521.6 L975.8 522.6 L975.9 523.6 L975.9 524.6 L976.0 525.6 L976.1 526.6 L976.1 527.6 L976.2 528.6 L976.2 529.6 L976.3 530.6 L976.4 531.6 L976.4 532.6 L976.5 533.6 L976.6 534.6 L976.6 535.6 L976.7 536.6 L976.8 537.6 L976.8 538.6 L976.9 539.6 L977.0 540.6 L977.0 541.6 L977.1 542.6 L977.2 543.6 L977.3 544.6 L977.3 545.6 L977.4 546.6 L977.5 547.6 L977.6 548.6 L977.6 549.6 L977.7 550.6 L977.8 551.6 L977.9 552.6 L978.0 553.6 L978.1 554.6 L978.2 555.6 L978.2 556.6 L978.3 557.6 L978.4 558.6 L978.5 559.6 L978.6 560.6 L978.6 561.6 L978.7 562.6 L978.7 563.6 L978.8 564.6 L978.8 565.6 L978.9 566.6 L978.9 567.6 L978.9 568.6 L979.0 569.6 L979.1 570.6 L979.1 571.6 L979.2 572.6 L979.3 573.6 L979.4 574.6 L979.5 575.6 L979.6 576.6 L979.7 577.6 L979.8 578.6 L979.9 579.6 L980.0 580.6 L980.2 581.6 L980.3 582.6 L980.4 583.6 L980.5 584.6 L980.6 585.6 L980.7 586.6 L980.8 587.6 L980.9 588.6 L981.0 589.6 L981.1 590.6 L981.2 591.6 L981.3 592.6 L981.4 593.6 L981.5 594.6 L981.6 595.6 L981.7 596.6 L981.7 597.6 L981.8 598.6 L981.9 599.6 L982.0 600.6 L982.1 601.6 L982.2 602.6 L982.3 603.6 L982.3 604.6 L982.4 605.6 L982.5 606.6 L982.6 607.6 L982.6 608.6 L982.7 609.6 L982.8 610.6 L982.8 611.6 L982.9 612.6 L983.0 613.6 L983.0 614.6 L983.1 615.6 L983.1 616.6 L983.1 617.6 L983.2 618.6 L983.2 619.6 L983.2 620.6 L983.3 621.6 L983.3 622.6 L983.3 623.6 L983.4 624.6 L983.4 625.6 L983.4 626.6 L983.5 627.6 L983.5 628.6 L983.6 629.6 L983.6 630.6 L983.6 631.6 L983.7 632.6 L983.7 633.6 L983.8 634.6 L983.8 635.6 L983.8 636.6 L983.9 637.6 L983.9 638.6 L984.0 639.6 L984.0 640.6 L984.1 641.6 L984.1 642.6 L984.1 643.6 L984.2 644.6 L984.2 645.6 L984.3 646.6 L984.3 647.6 L984.4 648.6 L984.4 649.6 L984.5 650.6 L984.5 651.6 L984.5 652.6 L984.6 653.6 L984.6 654.6 L984.7 655.6 L984.7 656.6 L984.8 657.6 L984.8 658.6 L984.9 659.6 L984.9 660.3 L984.9 660.3 L984.9 659.6 L985.0 658.6 L985.0 657.6 L985.1 656.6 L985.1 655.6 L985.2 654.6 L985.2 653.6 L985.3 652.6 L985.3 651.6 L985.3 650.6 L985.4 649.6 L985.4 648.6 L985.5 647.6 L985.5 646.6 L985.6 645.6 L985.6 644.6 L985.7 643.6 L985.7 642.6 L985.7 641.6 L985.8 640.6 L985.8 639.6 L985.9 638.6 L985.9 637.6 L986.0 636.6 L986.0 635.6 L986.0 634.6 L986.1 633.6 L986.1 632.6 L986.2 631.6 L986.2 630.6 L986.2 629.6 L986.3 628.6 L986.3 627.6 L986.4 626.6 L986.4 625.6 L986.4 624.6 L986.5 623.6 L986.5 622.6 L986.5 621.6 L986.6 620.6 L986.6 619.6 L986.6 618.6 L986.7 617.6 L986.7 616.6 L986.7 615.6 L986.8 614.6 L986.8 613.6 L986.9 612.6 L987.0 611.6 L987.0 610.6 L987.1 609.6 L987.2 608.6 L987.2 607.6 L987.3 606.6 L987.4 605.6 L987.5 604.6 L987.5 603.6 L987.6 602.6 L987.7 601.6 L987.8 600.6 L987.9 599.6 L988.0 598.6 L988.1 597.6 L988.1 596.6 L988.2 595.6 L988.3 594.6 L988.4 593.6 L988.5 592.6 L988.6 591.6 L988.7 590.6 L988.8 589.6 L988.9 588.6 L989.0 587.6 L989.1 586.6 L989.2 585.6 L989.3 584.6 L989.4 583.6 L989.5 582.6 L989.6 581.6 L989.8 580.6 L989.9 579.6 L990.0 578.6 L990.1 577.6 L990.2 576.6 L990.3 575.6 L990.4 574.6 L990.5 573.6 L990.6 572.6 L990.7 571.6 L990.7 570.6 L990.8 569.6 L990.9 568.6 L990.9 567.6 L990.9 566.6 L991.0 565.6 L991.0 564.6 L991.1 563.6 L991.1 562.6 L991.2 561.6 L991.2 560.6 L991.3 559.6 L991.4 558.6 L991.5 557.6 L991.6 556.6 L991.6 555.6 L991.7 554.6 L991.8 553.6 L991.9 552.6 L992.0 551.6 L992.1 550.6 L992.2 549.6 L992.2 548.6 L992.3 547.6 L992.4 546.6 L992.5 545.6 L992.5 544.6 L992.6 543.6 L992.7 542.6 L992.8 541.6 L992.8 540.6 L992.9 539.6 L993.0 538.6 L993.0 537.6 L993.1 536.6 L993.2 535.6 L993.2 534.6 L993.3 533.6 L993.4 532.6 L993.4 531.6 L993.5 530.6 L993.6 529.6 L993.6 528.6 L993.7 527.6 L993.7 526.6 L993.8 525.6 L993.9 524.6 L993.9 523.6 L994.0 522.6 L994.0 521.6 L994.1 520.6 L994.2 519.6 L994.2 518.6 L994.3 517.6 L994.3 516.6 L994.4 515.6 L994.4 514.6 L994.5 513.6 L994.5 512.6 L994.6 511.6 L994.7 510.6 L994.7 509.6 L994.8 508.6 L994.8 507.6 L994.9 506.6 L994.9 505.6 L995.0 504.6 L995.0 503.6 L995.1 502.6 L995.1 501.6 L995.2 500.6 L995.2 499.6 L995.3 498.6 L995.3 497.6 L995.4 496.6 L995.4 495.6 L995.4 494.6 L995.5 493.6 L995.5 492.6 L995.5 491.6 L995.6 490.6 L995.6 489.6 L995.6 488.6 L995.6 487.6 L995.7 486.6 L995.7 485.6 L995.7 484.6 L995.7 483.6 L995.8 482.6 L995.8 481.6 L995.8 480.6 L995.8 479.6 L995.9 478.6 L995.9 477.6 L995.9 476.6 L995.9 475.6 L995.9 474.6 L996.0 473.6 L996.0 472.6 L996.0 471.6 L996.0 470.6 L996.0 469.6 L996.0 468.6 L996.1 467.6 L996.1 466.6 L996.1 465.6 L996.1 464.6 L996.1 463.6 L996.1 462.6 L996.1 461.6 L996.1 460.6 L996.1 459.6 L996.1 458.6 L996.1 457.6 L996.1 456.6 L996.1 455.6 L996.0 454.6 L996.0 453.6 L996.0 452.6 L996.0 451.6 L995.9 450.6 L995.9 449.6 L995.8 448.6 L995.8 447.6 L995.7 446.6 L995.7 445.6 L995.6 444.6 L995.5 443.6 L995.5 442.6 L995.4 441.6 L995.4 440.6 L995.3 439.6 L995.2 438.6 L995.2 437.6 L995.1 436.6 L995.1 435.6 L995.0 434.6 L995.0 433.6 L994.9 432.6 L994.9 431.6 L994.8 430.6 L994.8 429.6 L994.7 428.6 L994.7 427.6 L994.6 426.6 L994.6 425.6 L994.5 424.6 L994.5 423.6 L994.4 422.6 L994.4 421.6 L994.3 420.6 L994.3 419.6 L994.2 418.6 L994.2 417.6 L994.1 416.6 L994.1 415.6 L994.0 414.6 L994.0 413.6 L993.9 412.6 L993.9 411.6 L993.8 410.6 L993.7 409.6 L993.7 408.6 L993.6 407.6 L993.6 406.6 L993.5 405.6 L993.4 404.6 L993.3 403.6 L993.3 402.6 L993.2 401.6 L993.1 400.6 L993.1 399.6 L993.0 398.6 L992.9 397.6 L992.8 396.6 L992.7 395.6 L992.7 394.6 L992.6 393.6 L992.5 392.6 L992.4 391.6 L992.3 390.6 L992.3 389.6 L992.2 388.6 L992.1 387.6 L992.0 386.6 L991.9 385.6 L991.9 384.6 L991.8 383.6 L991.7 382.6 L991.7 381.6 L991.6 380.6 L991.5 379.6 L991.4 378.6 L991.4 377.6 L991.3 376.6 L991.2 375.6 L991.2 374.6 L991.1 373.6 L991.0 372.6 L990.9 371.6 L990.9 370.6 L990.8 369.6 L990.7 368.6 L990.6 367.6 L990.6 366.6 L990.5 365.6 L990.4 364.6 L990.3 363.6 L990.3 362.6 L990.2 361.6 L990.2 360.6 L990.1 359.6 L990.0 358.6 L990.0 357.6 L990.0 356.6 L989.9 355.6 L989.9 354.6 L989.9 353.6 L989.8 352.6 L989.8 351.6 L989.8 350.6 L989.8 349.6 L989.8 348.6 L989.8 347.6 L989.8 346.6 L989.8 345.6 L989.8 344.6 L989.8 343.6 L989.8 342.6 L989.8 341.6 L989.8 340.6 L989.7 339.6 L989.7 338.6 L989.7 337.6 L989.6 336.6 L989.6 335.6 L989.6 334.6 L989.5 333.6 L989.5 332.6 L989.4 331.6 L989.4 330.6 L989.4 329.6 L989.3 328.6 L989.3 327.6 L989.3 326.6 L989.2 325.6 L989.2 324.6 L989.2 323.6 L989.2 322.6 L989.1 321.6 L989.1 320.6 L989.1 319.6 L989.1 318.6 L989.0 317.6 L989.0 316.6 L989.0 315.6 L989.0 314.6 L988.9 313.6 L988.9 312.6 L988.9 311.6 L988.9 310.6 L988.8 309.6 L988.8 308.6 L988.8 307.6 L988.8 306.6 L988.8 305.6 L988.7 304.6 L988.7 303.6 L988.7 302.6 L988.7 301.6 L988.6 300.6 L988.6 299.6 L988.6 298.6 L988.6 297.6 L988.5 296.6 L988.5 295.6 L988.5 294.6 L988.5 293.6 L988.5 292.6 L988.4 291.6 L988.4 290.6 L988.4 289.6 L988.4 288.6 L988.3 287.6 L988.3 286.6 L988.3 285.6 L988.3 284.6 L988.2 283.6 L988.2 282.6 L988.2 281.6 L988.2 280.6 L988.1 279.6 L988.1 278.6 L988.1 277.6 L988.1 276.6 L988.0 275.6 L988.0 274.6 L988.0 273.6 L988.0 272.6 L988.0 271.6 L987.9 270.6 L987.9 269.6 L987.9 268.6 L987.9 267.6 L987.8 266.6 L987.8 265.6 L987.8 264.6 L987.8 263.6 L987.8 262.6 L987.7 261.6 L987.7 260.6 L987.7 259.6 L987.7 258.6 L987.7 257.6 L987.7 256.6 L987.6 255.6 L987.6 254.6 L987.6 253.6 L987.6 252.6 L987.6 251.6 L987.5 250.6 L987.5 249.6 L987.5 248.6 L987.5 247.6 L987.5 246.6 L987.4 245.6 L987.4 244.6 L987.4 243.6 L987.4 242.6 L987.3 241.6 L987.3 240.6 L987.3 239.6 L987.2 238.6 L987.2 237.6 L987.2 236.6 L987.1 235.6 L987.1 234.6 L987.0 233.6 L987.0 232.6 L986.9 231.6 L986.8 230.6 L986.7 229.6 L986.7 228.6 L986.6 227.6 L986.5 226.6 L986.4 225.6 L986.4 224.6 L986.3 223.6 L986.2 222.6 L986.2 221.6 L986.1 220.6 L986.1 219.6 L986.0 218.6 L986.0 217.6 L986.0 216.6 L985.9 215.6 L985.9 214.6 L985.9 213.6 L985.8 212.6 L985.8 211.6 L985.8 210.6 L985.7 209.6 L985.7 208.6 L985.7 207.6 L985.6 206.6 L985.6 205.6 L985.6 204.6 L985.6 203.6 L985.5 202.6 L985.5 201.6 L985.5 200.6 L985.5 199.6 L985.5 198.6 L985.4 197.6 L985.4 196.6 L985.4 195.6 L985.4 194.6 L985.4 193.6 L985.3 192.6 L985.3 191.6 L985.3 190.6 L985.3 189.6 L985.3 188.6 L985.3 187.6 L985.2 186.6 L985.2 185.6 L985.2 184.6 L985.2 183.6 L985.2 182.6 L985.2 181.6 L985.1 180.6 L985.1 179.6 L985.1 178.6 L985.1 177.6 L985.1 176.6 L985.1 175.6 L985.1 174.6 L985.1 173.6 L985.0 172.6 L985.0 171.6 L985.0 170.6 L985.0 169.6 L985.0 168.6 L985.0 167.6 L985.0 166.6 L985.0 165.6 L985.0 164.6 L985.0 163.6 L985.0 162.6 L985.0 161.6 L985.0 160.6 L985.0 159.6 L985.0 158.6 L985.0 157.6 L985.0 156.6 L985.0 155.6 L985.0 154.6 L985.0 153.6 L985.0 152.6 L985.0 151.6 L985.0 150.6 L985.0 149.6 L985.0 148.6 L985.0 147.6 L985.0 146.6 L985.0 145.6 L985.0 144.6 L985.0 143.6 L985.0 142.6 L985.0 141.6 L985.0 140.6 L985.0 139.6 L985.0 138.6 L985.0 137.6 L985.0 136.6 L985.0 135.6 L985.0 134.6 L985.0 133.6 L985.0 132.6 L985.0 131.6 L985.0 130.6 L985.0 129.6 L985.0 128.6 L985.0 127.6 L985.0 126.6 L985.0 125.6 L985.0 124.6 L985.0 123.6 L985.0 122.6 L985.0 121.6 L985.0 120.6 L985.0 119.6 L985.0 118.6 L985.0 117.6 L985.0 116.6 L985.0 115.6 L985.0 114.6 L985.0 113.6 L985.0 112.6 L985.0 111.6 L984.9 110.6 L984.9 109.6 L984.9 108.6 L984.9 107.6 L984.9 106.6 Z" fill="#7b7beb" stroke="#2c2cff" stroke-width="1.6" stroke-linejoin="round"/>
<line x1="131.6" y1="517.7" x2="131.6" y2="609.4" stroke="#4a4a5a" stroke-width="1.8"/>
<line x1="129.8" y1="517.7" x2="133.4" y2="517.7" stroke="#4a4a5a" stroke-width="1.2"/>
<line x1="129.8" y1="609.4" x2="133.4" y2="609.4" stroke="#4a4a5a" stroke-width="1.2"/>
<rect x="128.6" y="543.6" width="6.6" height="26.0" fill="#2222dd" stroke="#44447a" stroke-width="0.6"/>
<line x1="253.5" y1="490.5" x2="253.5" y2="551.3" stroke="#4a4a5a" stroke-width="1.8"/>
<line x1="251.7" y1="490.5" x2="255.3" y2="490.5" stroke="#4a4a5a" stroke-width="1.2"/>
<line x1="251.7" y1="551.3" x2="255.3" y2="551.3" stroke="#4a4a5a" stroke-width="1.2"/>
<rect x="250.5" y="514.0" width="6.6" height="32.8" fill="#2222dd" stroke="#44447a" stroke-width="0.6"/>
<line x1="375.4" y1="459.5" x2="375.4" y2="566.3" stroke="#4a4a5a" stroke-width="1.8"/>
<line x1="373.6" y1="459.5" x2="377.2" y2="459.5" stroke="#4a4a5a" stroke-width="1.2"/>
<line x1="373.6" y1="566.3" x2="377.2" y2="566.3" stroke="#4a4a5a" stroke-width="1.2"/>
<rect x="372.4" y="503.6" width="6.6" height="48.8" fill="#2222dd" stroke="#44447a" stroke-width="0.6"/>
<line x1="497.3" y1="452.6" x2="497.3" y2="560.7" stroke="#4a4a5a" stroke-width="1.8"/>
<line x1="495.5" y1="452.6" x2="499.1" y2="452.6" stroke="#4a4a5a" stroke-width="1.2"/>
<line x1="495.5" y1="560.7" x2="499.1" y2="560.7" stroke="#4a4a5a" stroke-width="1.2"/>
<rect x="494.3" y="482.3" width="6.6" height="51.1" fill="#2222dd" stroke="#44447a" stroke-width="0.6"/>
<line x1="619.2" y1="450.4" x2="619.2" y2="563.3" stroke="#4a4a5a" stroke-width="1.8"/>
<line x1="617.4" y1="450.4" x2="621.0" y2="450.4" stroke="#4a4a5a" stroke-width="1.2"/>
<line x1="617.4" y1="563.3" x2="621.0" y2="563.3" stroke="#4a4a5a" stroke-width="1.2"/>
<rect x="616.2" y="478.0" width="6.6" height="43.5" fill="#2222dd" stroke="#44447a" stroke-width="0.6"/>
<line x1="741.1" y1="354.7" x2="741.1" y2="556.5" stroke="#4a4a5a" stroke-width="1.8"/>
<line x1="739.3" y1="354.7" x2="742.9" y2="354.7" stroke="#4a4a5a" stroke-width="1.2"/>
<line x1="739.3" y1="556.5" x2="742.9" y2="556.5" stroke="#4a4a5a" stroke-width="1.2"/>
<rect x="738.1" y="462.3" width="6.6" height="80.6" fill="#2222dd" stroke="#44447a" stroke-width="0.6"/>
<line x1="863.0" y1="324.0" x2="863.0" y2="581.8" stroke="#4a4a5a" stroke-width="1.8"/>
<line x1="861.2" y1="324.0" x2="864.8" y2="324.0" stroke="#4a4a5a" stroke-width="1.2"/>
<line x1="861.2" y1="581.8" x2="864.8" y2="581.8" stroke="#4a4a5a" stroke-width="1.2"/>
<rect x="860.0" y="429.3" width="6.6" height="110.0" fill="#2222dd" stroke="#44447a" stroke-width="0.6"/>
<line x1="984.9" y1="281.9" x2="984.9" y2="564.6" stroke="#4a4a5a" stroke-width="1.8"/>
<line x1="983.1" y1="281.9" x2="986.7" y2="281.9" stroke="#4a4a5a" stroke-width="1.2"/>
<line x1="983.1" y1="564.6" x2="986.7" y2="564.6" stroke="#4a4a5a" stroke-width="1.2"/>
<rect x="981.9" y="416.1" width="6.6" height="96.0" fill="#2222dd" stroke="#44447a" stroke-width="0.6"/>
</g>
<polyline points="131.6,451.0 253.5,429.0 375.4,414.3 497.3,274.6 619.2,237.9 741.1,193.8 863.0,175.4 984.9,98.2" fill="none" stroke="#f01010" stroke-width="1.6"/>
<rect x="124.7" y="446.9" width="14.2" height="8.3" fill="#454545"/>
<rect x="246.6" y="424.8" width="14.2" height="8.3" fill="#454545"/>
<rect x="368.5" y="410.1" width="14.2" height="8.3" fill="#454545"/>
<rect x="490.4" y="270.5" width="14.2" height="8.3" fill="#454545"/>
<rect x="612.3" y="233.7" width="14.2" height="8.3" fill="#454545"/>
<rect x="734.2" y="189.6" width="14.2" height="8.3" fill="#454545"/>
<rect x="856.1" y="171.2" width="14.2" height="8.3" fill="#454545"/>
<rect x="978.0" y="94.1" width="14.2" height="8.3" fill="#454545"/>
<path d="M70.3 80.0 V686.5 H1046.0" fill="none" stroke="#000" stroke-width="1.6"/>
<path d="M1046.0 687.3 V80.0" fill="none" stroke="#000" stroke-width="2.1"/>
<line x1="70.3" y1="657.0" x2="75.89999999999999" y2="657.0" stroke="#000" stroke-width="1.9"/>
<text transform="translate(67.60 667.20) scale(0.8600 1)" font-family="'Liberation Sans', Arial, Helvetica, sans-serif" font-size="30.0" text-anchor="end" fill="#000" stroke="#000" stroke-width="0.5" stroke-linejoin="round">2.2</text>
<line x1="70.3" y1="574.8" x2="75.89999999999999" y2="574.8" stroke="#000" stroke-width="1.9"/>
<text transform="translate(67.60 584.95) scale(0.8600 1)" font-family="'Liberation Sans', Arial, Helvetica, sans-serif" font-size="30.0" text-anchor="end" fill="#000" stroke="#000" stroke-width="0.5" stroke-linejoin="round">2.3</text>
<line x1="70.3" y1="492.5" x2="75.89999999999999" y2="492.5" stroke="#000" stroke-width="1.9"/>
<text transform="translate(67.60 502.70) scale(0.8600 1)" font-family="'Liberation Sans', Arial, Helvetica, sans-serif" font-size="30.0" text-anchor="end" fill="#000" stroke="#000" stroke-width="0.5" stroke-linejoin="round">2.4</text>
<line x1="70.3" y1="410.2" x2="75.89999999999999" y2="410.2" stroke="#000" stroke-width="1.9"/>
<text transform="translate(67.60 420.45) scale(0.8600 1)" font-family="'Liberation Sans', Arial, Helvetica, sans-serif" font-size="30.0" text-anchor="end" fill="#000" stroke="#000" stroke-width="0.5" stroke-linejoin="round">2.5</text>
<line x1="70.3" y1="328.0" x2="75.89999999999999" y2="328.0" stroke="#000" stroke-width="1.9"/>
<text transform="translate(67.60 338.20) scale(0.8600 1)" font-family="'Liberation Sans', Arial, Helvetica, sans-serif" font-size="30.0" text-anchor="end" fill="#000" stroke="#000" stroke-width="0.5" stroke-linejoin="round">2.6</text>
<line x1="70.3" y1="245.8" x2="75.89999999999999" y2="245.8" stroke="#000" stroke-width="1.9"/>
<text transform="translate(67.60 255.95) scale(0.8600 1)" font-family="'Liberation Sans', Arial, Helvetica, sans-serif" font-size="30.0" text-anchor="end" fill="#000" stroke="#000" stroke-width="0.5" stroke-linejoin="round">2.7</text>
<line x1="70.3" y1="163.5" x2="75.89999999999999" y2="163.5" stroke="#000" stroke-width="1.9"/>
<text transform="translate(67.60 173.70) scale(0.8600 1)" font-family="'Liberation Sans', Arial, Helvetica, sans-serif" font-size="30.0" text-anchor="end" fill="#000" stroke="#000" stroke-width="0.5" stroke-linejoin="round">2.8</text>
<line x1="70.3" y1="81.2" x2="75.89999999999999" y2="81.2" stroke="#000" stroke-width="1.9"/>
<text transform="translate(67.60 91.45) scale(0.8600 1)" font-family="'Liberation Sans', Arial, Helvetica, sans-serif" font-size="30.0" text-anchor="end" fill="#000" stroke="#000" stroke-width="0.5" stroke-linejoin="round">2.9</text>
<line x1="131.6" y1="686.5" x2="131.6" y2="680.7" stroke="#000" stroke-width="1.7"/>
<line x1="253.5" y1="686.5" x2="253.5" y2="680.7" stroke="#000" stroke-width="1.7"/>
<line x1="375.4" y1="686.5" x2="375.4" y2="680.7" stroke="#000" stroke-width="1.7"/>
<line x1="497.3" y1="686.5" x2="497.3" y2="680.7" stroke="#000" stroke-width="1.7"/>
<line x1="619.2" y1="686.5" x2="619.2" y2="680.7" stroke="#000" stroke-width="1.7"/>
<line x1="741.1" y1="686.5" x2="741.1" y2="680.7" stroke="#000" stroke-width="1.7"/>
<line x1="863.0" y1="686.5" x2="863.0" y2="680.7" stroke="#000" stroke-width="1.7"/>
<line x1="984.9" y1="686.5" x2="984.9" y2="680.7" stroke="#000" stroke-width="1.7"/>
<line x1="1046.0" y1="686.2" x2="1040.7" y2="686.2" stroke="#000" stroke-width="1.9"/>
<text transform="translate(1049.30 697.20) scale(0.8850 1)" font-family="'DejaVu Sans', 'Liberation Sans', sans-serif" font-size="28.6" text-anchor="start" fill="#000" stroke="#000" stroke-width="0.3" stroke-linejoin="round">0.000</text>
<line x1="1046.0" y1="612.7" x2="1040.7" y2="612.7" stroke="#000" stroke-width="1.9"/>
<text transform="translate(1049.30 623.70) scale(0.8850 1)" font-family="'DejaVu Sans', 'Liberation Sans', sans-serif" font-size="28.6" text-anchor="start" fill="#000" stroke="#000" stroke-width="0.3" stroke-linejoin="round">0.002</text>
<line x1="1046.0" y1="539.2" x2="1040.7" y2="539.2" stroke="#000" stroke-width="1.9"/>
<text transform="translate(1049.30 550.20) scale(0.8850 1)" font-family="'DejaVu Sans', 'Liberation Sans', sans-serif" font-size="28.6" text-anchor="start" fill="#000" stroke="#000" stroke-width="0.3" stroke-linejoin="round">0.004</text>
<line x1="1046.0" y1="465.7" x2="1040.7" y2="465.7" stroke="#000" stroke-width="1.9"/>
<text transform="translate(1049.30 476.70) scale(0.8850 1)" font-family="'DejaVu Sans', 'Liberation Sans', sans-serif" font-size="28.6" text-anchor="start" fill="#000" stroke="#000" stroke-width="0.3" stroke-linejoin="round">0.006</text>
<line x1="1046.0" y1="392.2" x2="1040.7" y2="392.2" stroke="#000" stroke-width="1.9"/>
<text transform="translate(1049.30 403.20) scale(0.8850 1)" font-family="'DejaVu Sans', 'Liberation Sans', sans-serif" font-size="28.6" text-anchor="start" fill="#000" stroke="#000" stroke-width="0.3" stroke-linejoin="round">0.008</text>
<line x1="1046.0" y1="318.7" x2="1040.7" y2="318.7" stroke="#000" stroke-width="1.9"/>
<text transform="translate(1049.30 329.70) scale(0.8850 1)" font-family="'DejaVu Sans', 'Liberation Sans', sans-serif" font-size="28.6" text-anchor="start" fill="#000" stroke="#000" stroke-width="0.3" stroke-linejoin="round">0.010</text>
<line x1="1046.0" y1="245.2" x2="1040.7" y2="245.2" stroke="#000" stroke-width="1.9"/>
<text transform="translate(1049.30 256.20) scale(0.8850 1)" font-family="'DejaVu Sans', 'Liberation Sans', sans-serif" font-size="28.6" text-anchor="start" fill="#000" stroke="#000" stroke-width="0.3" stroke-linejoin="round">0.012</text>
<line x1="1046.0" y1="171.7" x2="1040.7" y2="171.7" stroke="#000" stroke-width="1.9"/>
<text transform="translate(1049.30 182.70) scale(0.8850 1)" font-family="'DejaVu Sans', 'Liberation Sans', sans-serif" font-size="28.6" text-anchor="start" fill="#000" stroke="#000" stroke-width="0.3" stroke-linejoin="round">0.014</text>
<line x1="1046.0" y1="98.2" x2="1040.7" y2="98.2" stroke="#000" stroke-width="1.9"/>
<text transform="translate(1049.30 109.20) scale(0.8850 1)" font-family="'DejaVu Sans', 'Liberation Sans', sans-serif" font-size="28.6" text-anchor="start" fill="#000" stroke="#000" stroke-width="0.3" stroke-linejoin="round">0.016</text>
<text transform="translate(128.60 710.80) scale(0.9000 1)" font-family="'Liberation Sans', Arial, Helvetica, sans-serif" font-size="27.8" text-anchor="middle" fill="#000" stroke="#000" stroke-width="0.5" stroke-linejoin="round">Control</text>
<text transform="translate(135.40 741.10) scale(0.9000 1)" font-family="'Liberation Sans', Arial, Helvetica, sans-serif" font-size="27.8" text-anchor="middle" fill="#000" stroke="#000" stroke-width="0.5" stroke-linejoin="round">NoHx</text>
<text transform="translate(251.60 710.80) scale(0.9000 1)" font-family="'Liberation Sans', Arial, Helvetica, sans-serif" font-size="27.8" text-anchor="middle" fill="#000" stroke="#000" stroke-width="0.5" stroke-linejoin="round">NDA</text>
<text transform="translate(257.60 741.10) scale(0.9000 1)" font-family="'Liberation Sans', Arial, Helvetica, sans-serif" font-size="27.8" text-anchor="middle" fill="#000" stroke="#000" stroke-width="0.5" stroke-linejoin="round">NoHx</text>
<text transform="translate(371.50 710.80) scale(0.9000 1)" font-family="'Liberation Sans', Arial, Helvetica, sans-serif" font-size="27.8" text-anchor="middle" fill="#000" stroke="#000" stroke-width="0.5" stroke-linejoin="round">Control</text>
<text transform="translate(379.20 741.10) scale(0.9000 1)" font-family="'Liberation Sans', Arial, Helvetica, sans-serif" font-size="27.8" text-anchor="middle" fill="#000" stroke="#000" stroke-width="0.5" stroke-linejoin="round">LowHx</text>
<text transform="translate(495.00 710.80) scale(0.9000 1)" font-family="'Liberation Sans', Arial, Helvetica, sans-serif" font-size="27.8" text-anchor="middle" fill="#000" stroke="#000" stroke-width="0.5" stroke-linejoin="round">NDA</text>
<text transform="translate(501.10 741.10) scale(0.9000 1)" font-family="'Liberation Sans', Arial, Helvetica, sans-serif" font-size="27.8" text-anchor="middle" fill="#000" stroke="#000" stroke-width="0.5" stroke-linejoin="round">LowHx</text>
<text transform="translate(616.10 710.80) scale(0.9000 1)" font-family="'Liberation Sans', Arial, Helvetica, sans-serif" font-size="27.8" text-anchor="middle" fill="#000" stroke="#000" stroke-width="0.5" stroke-linejoin="round">Control</text>
<text transform="translate(622.30 741.10) scale(0.9000 1)" font-family="'Liberation Sans', Arial, Helvetica, sans-serif" font-size="27.8" text-anchor="middle" fill="#000" stroke="#000" stroke-width="0.5" stroke-linejoin="round">HighHx</text>
<text transform="translate(738.70 710.80) scale(0.9000 1)" font-family="'Liberation Sans', Arial, Helvetica, sans-serif" font-size="27.8" text-anchor="middle" fill="#000" stroke="#000" stroke-width="0.5" stroke-linejoin="round">AA</text>
<text transform="translate(744.90 741.10) scale(0.9000 1)" font-family="'Liberation Sans', Arial, Helvetica, sans-serif" font-size="27.8" text-anchor="middle" fill="#000" stroke="#000" stroke-width="0.5" stroke-linejoin="round">NoHx</text>
<text transform="translate(860.40 710.80) scale(0.9000 1)" font-family="'Liberation Sans', Arial, Helvetica, sans-serif" font-size="27.8" text-anchor="middle" fill="#000" stroke="#000" stroke-width="0.5" stroke-linejoin="round">AA</text>
<text transform="translate(866.60 741.10) scale(0.9000 1)" font-family="'Liberation Sans', Arial, Helvetica, sans-serif" font-size="27.8" text-anchor="middle" fill="#000" stroke="#000" stroke-width="0.5" stroke-linejoin="round">LowHx</text>
<text transform="translate(982.00 710.80) scale(0.9000 1)" font-family="'Liberation Sans', Arial, Helvetica, sans-serif" font-size="27.8" text-anchor="middle" fill="#000" stroke="#000" stroke-width="0.5" stroke-linejoin="round">AA</text>
<text transform="translate(988.80 741.10) scale(0.9000 1)" font-family="'Liberation Sans', Arial, Helvetica, sans-serif" font-size="27.8" text-anchor="middle" fill="#000" stroke="#000" stroke-width="0.5" stroke-linejoin="round">HighHx</text>
<text transform="translate(22.90 384.00) rotate(-90) scale(1.1550 1)" font-family="'DejaVu Sans', 'Liberation Sans', sans-serif" font-size="24.8" text-anchor="middle" fill="#000" stroke="#000" stroke-width="0.3" stroke-linejoin="round">Chromatin D</text>
<text transform="translate(1144.30 382.90) rotate(-90) scale(1.1600 1)" font-family="'DejaVu Sans', 'Liberation Sans', sans-serif" font-size="24.5" text-anchor="middle" fill="#f01010" stroke="#f01010" stroke-width="0.3" stroke-linejoin="round">5-Year CRC Risk(%)</text>
<rect x="1342.0" y="158.8" width="423.4" height="430.5" fill="none" stroke="#000" stroke-width="3.5"/>
<text transform="translate(1315.30 167.80)" font-family="'Liberation Sans', Arial, Helvetica, sans-serif" font-size="31.8" text-anchor="end" fill="#000">2.48</text>
<text transform="translate(1315.30 275.50)" font-family="'Liberation Sans', Arial, Helvetica, sans-serif" font-size="31.8" text-anchor="end" fill="#000">2.44</text>
<text transform="translate(1315.30 383.20)" font-family="'Liberation Sans', Arial, Helvetica, sans-serif" font-size="31.8" text-anchor="end" fill="#000">2.4</text>
<text transform="translate(1315.30 490.90)" font-family="'Liberation Sans', Arial, Helvetica, sans-serif" font-size="31.8" text-anchor="end" fill="#000">2.36</text>
<text transform="translate(1315.30 598.60)" font-family="'Liberation Sans', Arial, Helvetica, sans-serif" font-size="31.8" text-anchor="end" fill="#000">2.32</text>
<text transform="translate(1342.50 636.80)" font-family="'Liberation Sans', Arial, Helvetica, sans-serif" font-size="31.3" text-anchor="middle" fill="#000">0.005</text>
<text transform="translate(1504.00 636.80)" font-family="'Liberation Sans', Arial, Helvetica, sans-serif" font-size="31.3" text-anchor="middle" fill="#000">0.01</text>
<text transform="translate(1666.00 636.80)" font-family="'Liberation Sans', Arial, Helvetica, sans-serif" font-size="31.3" text-anchor="middle" fill="#000">0.015</text>
<text transform="translate(1565.80 684.60)" font-family="'Liberation Sans', Arial, Helvetica, sans-serif" font-size="31.9" text-anchor="middle" fill="#000">5-Year CRC Risk (%)</text>
<text transform="translate(1233.80 374.00) rotate(-90)" font-family="'Liberation Sans', Arial, Helvetica, sans-serif" font-size="31.8" text-anchor="middle" fill="#000">Chromatin D</text>
<text transform="translate(1390.70 218.60)" font-family="'Liberation Sans', Arial, Helvetica, sans-serif" font-size="36.2" text-anchor="start" fill="#000" stroke="#000" stroke-width="0.4" stroke-linejoin="round">R² = 0.935</text>
<rect x="1384.8" y="509.5" width="6.4" height="80.4" fill="#595959"/>
<rect x="1378.9" y="509.5" width="18.2" height="7" fill="#595959"/>
<rect x="1378.9" y="582.9" width="18.2" height="7" fill="#595959"/>
<rect x="1404.5" y="480.1" width="6.4" height="80.4" fill="#595959"/>
<rect x="1398.6" y="480.1" width="18.2" height="7" fill="#595959"/>
<rect x="1398.6" y="553.5" width="18.2" height="7" fill="#595959"/>
<rect x="1416.9" y="496.0" width="6.4" height="80.4" fill="#595959"/>
<rect x="1411.0" y="496.0" width="18.2" height="7" fill="#595959"/>
<rect x="1411.0" y="569.4" width="18.2" height="7" fill="#595959"/>
<rect x="1540.5" y="401.0" width="6.4" height="80.4" fill="#595959"/>
<rect x="1534.6" y="401.0" width="18.2" height="7" fill="#595959"/>
<rect x="1534.6" y="474.4" width="18.2" height="7" fill="#595959"/>
<rect x="1573.2" y="399.4" width="6.4" height="80.4" fill="#595959"/>
<rect x="1567.3" y="399.4" width="18.2" height="7" fill="#595959"/>
<rect x="1567.3" y="472.8" width="18.2" height="7" fill="#595959"/>
<rect x="1612.1" y="345.0" width="6.4" height="80.4" fill="#595959"/>
<rect x="1606.2" y="345.0" width="18.2" height="7" fill="#595959"/>
<rect x="1606.2" y="418.4" width="18.2" height="7" fill="#595959"/>
<rect x="1628.6" y="278.2" width="6.4" height="80.4" fill="#595959"/>
<rect x="1622.7" y="278.2" width="18.2" height="7" fill="#595959"/>
<rect x="1622.7" y="351.6" width="18.2" height="7" fill="#595959"/>
<rect x="1696.7" y="219.5" width="6.4" height="80.4" fill="#595959"/>
<rect x="1690.8" y="219.5" width="18.2" height="7" fill="#595959"/>
<rect x="1690.8" y="292.9" width="18.2" height="7" fill="#595959"/>
<circle cx="1388.0" cy="549.7" r="17.8" fill="#4472c4"/>
<circle cx="1406.8" cy="520.3" r="17.8" fill="#4472c4"/>
<circle cx="1420.7" cy="536.2" r="17.8" fill="#4472c4"/>
<circle cx="1542.9" cy="441.2" r="17.8" fill="#4472c4"/>
<circle cx="1577.1" cy="439.6" r="17.8" fill="#4472c4"/>
<circle cx="1615.3" cy="385.2" r="17.8" fill="#4472c4"/>
<circle cx="1631.8" cy="318.4" r="17.8" fill="#4472c4"/>
<circle cx="1699.9" cy="259.7" r="17.8" fill="#4472c4"/>
<line x1="1387.8" y1="558.6" x2="1700.5" y2="287.8" stroke="#4472c4" stroke-width="4.2" stroke-linecap="round" stroke-dasharray="0.01 11.32"/>
</g>
</svg>
</body>
</html>
